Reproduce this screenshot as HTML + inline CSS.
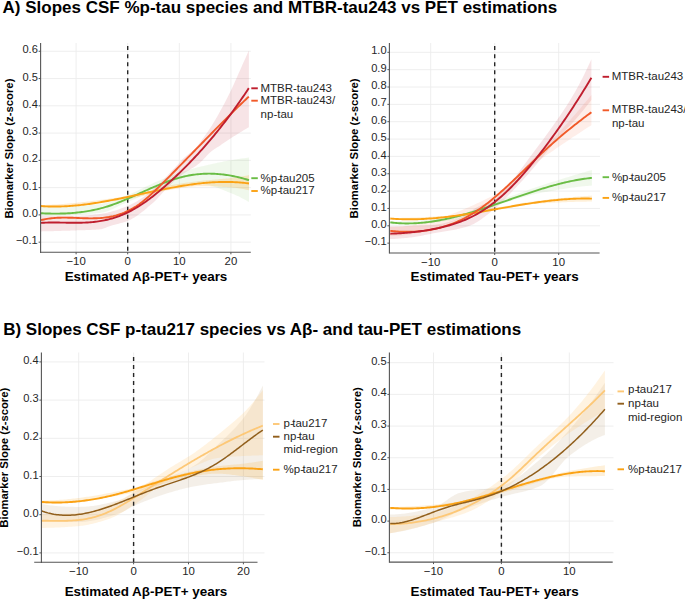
<!DOCTYPE html>
<html><head><meta charset="utf-8"><style>
html,body{margin:0;padding:0;background:#fff;}
svg{display:block;}
text{font-family:"Liberation Sans",sans-serif;}
</style></head><body>
<svg width="685" height="599" viewBox="0 0 685 599">
<rect width="685" height="599" fill="#fff"/>
<text x="2.6" y="13.0" font-size="17" font-weight="bold" fill="#000">A) Slopes CSF %p-tau species and MTBR-tau243 vs PET estimations</text>
<text x="3.2" y="335.3" font-size="17" font-weight="bold" fill="#000">B) Slopes CSF p-tau217 species vs Aβ- and tau-PET estimations</text>
<line x1="40.6" y1="51.28" x2="250.8" y2="51.28" stroke="#ececec" stroke-width="0.9"/>
<line x1="40.6" y1="78.55" x2="250.8" y2="78.55" stroke="#ececec" stroke-width="0.9"/>
<line x1="40.6" y1="105.82" x2="250.8" y2="105.82" stroke="#ececec" stroke-width="0.9"/>
<line x1="40.6" y1="133.09" x2="250.8" y2="133.09" stroke="#ececec" stroke-width="0.9"/>
<line x1="40.6" y1="160.36" x2="250.8" y2="160.36" stroke="#ececec" stroke-width="0.9"/>
<line x1="40.6" y1="187.63" x2="250.8" y2="187.63" stroke="#ececec" stroke-width="0.9"/>
<line x1="40.6" y1="214.90" x2="250.8" y2="214.90" stroke="#ececec" stroke-width="0.9"/>
<line x1="40.6" y1="242.17" x2="250.8" y2="242.17" stroke="#ececec" stroke-width="0.9"/>
<line x1="76.10" y1="43" x2="76.10" y2="252.3" stroke="#ececec" stroke-width="0.9"/>
<line x1="127.70" y1="43" x2="127.70" y2="252.3" stroke="#ececec" stroke-width="0.9"/>
<line x1="179.30" y1="43" x2="179.30" y2="252.3" stroke="#ececec" stroke-width="0.9"/>
<line x1="230.90" y1="43" x2="230.90" y2="252.3" stroke="#ececec" stroke-width="0.9"/>
<path d="M41.00,216.00 L42.51,216.00 L44.01,216.00 L45.52,216.00 L47.03,216.00 L48.53,216.00 L50.04,216.00 L51.55,216.00 L53.05,216.00 L54.56,216.00 L56.07,216.00 L57.57,216.00 L59.08,216.00 L60.58,216.00 L62.09,216.00 L63.60,216.00 L65.10,216.00 L66.61,216.00 L68.12,216.00 L69.62,216.00 L71.13,216.00 L72.64,216.00 L74.14,216.00 L75.65,216.00 L77.16,215.99 L78.66,215.97 L80.17,215.92 L81.68,215.85 L83.18,215.76 L84.69,215.66 L86.20,215.54 L87.70,215.41 L89.21,215.27 L90.72,215.11 L92.22,214.95 L93.73,214.78 L95.23,214.60 L96.74,214.41 L98.25,214.22 L99.75,214.03 L101.26,213.83 L102.77,213.59 L104.27,213.32 L105.78,213.02 L107.29,212.68 L108.79,212.32 L110.30,211.94 L111.81,211.52 L113.31,211.09 L114.82,210.63 L116.33,210.15 L117.83,209.65 L119.34,209.13 L120.85,208.60 L122.35,208.05 L123.86,207.49 L125.37,206.91 L126.87,206.33 L128.38,205.73 L129.88,205.07 L131.39,204.36 L132.90,203.59 L134.40,202.78 L135.91,201.91 L137.42,201.01 L138.92,200.07 L140.43,199.10 L141.94,198.10 L143.44,197.08 L144.95,196.03 L146.46,194.95 L147.96,193.79 L149.47,192.57 L150.98,191.29 L152.48,189.97 L153.99,188.61 L155.50,187.21 L157.00,185.80 L158.51,184.37 L160.02,182.94 L161.52,181.50 L163.03,180.03 L164.53,178.51 L166.04,176.96 L167.55,175.39 L169.05,173.80 L170.56,172.20 L172.07,170.59 L173.57,169.00 L175.08,167.42 L176.59,165.82 L178.09,164.18 L179.60,162.54 L181.11,160.92 L182.61,159.34 L184.12,157.83 L185.63,156.43 L187.13,155.17 L188.64,154.00 L190.15,152.86 L191.65,151.69 L193.16,150.43 L194.67,149.04 L196.17,147.41 L197.68,145.55 L199.18,143.55 L200.69,141.51 L202.20,139.50 L203.70,137.45 L205.21,135.36 L206.72,133.22 L208.22,131.01 L209.73,128.74 L211.24,126.40 L212.74,123.99 L214.25,121.53 L215.76,119.01 L217.26,116.43 L218.77,113.78 L220.28,111.07 L221.78,108.31 L223.29,105.50 L224.80,102.64 L226.30,99.74 L227.81,96.79 L229.32,93.77 L230.82,90.68 L232.33,87.49 L233.83,84.20 L235.34,80.83 L236.85,77.44 L238.35,74.05 L239.86,70.67 L241.37,67.27 L242.87,63.87 L244.38,60.49 L245.89,57.14 L247.39,53.81 L248.90,50.50 L248.90,127.20 L247.39,128.08 L245.89,128.97 L244.38,129.86 L242.87,130.77 L241.37,131.68 L239.86,132.60 L238.35,133.53 L236.85,134.47 L235.34,135.41 L233.83,136.36 L232.33,137.32 L230.82,138.28 L229.32,139.26 L227.81,140.27 L226.30,141.28 L224.80,142.31 L223.29,143.34 L221.78,144.36 L220.28,145.38 L218.77,146.38 L217.26,147.35 L215.76,148.25 L214.25,149.16 L212.74,150.19 L211.24,151.42 L209.73,152.80 L208.22,154.30 L206.72,155.87 L205.21,157.48 L203.70,159.08 L202.20,160.63 L200.69,162.08 L199.18,163.41 L197.68,164.58 L196.17,165.67 L194.67,166.69 L193.16,167.65 L191.65,168.58 L190.15,169.49 L188.64,170.40 L187.13,171.32 L185.63,172.27 L184.12,173.26 L182.61,174.32 L181.11,175.46 L179.60,176.65 L178.09,177.89 L176.59,179.18 L175.08,180.51 L173.57,181.87 L172.07,183.26 L170.56,184.68 L169.05,186.11 L167.55,187.55 L166.04,189.05 L164.53,190.64 L163.03,192.29 L161.52,193.97 L160.02,195.65 L158.51,197.31 L157.00,198.92 L155.50,200.45 L153.99,201.88 L152.48,203.20 L150.98,204.51 L149.47,205.81 L147.96,207.11 L146.46,208.39 L144.95,209.65 L143.44,210.88 L141.94,212.08 L140.43,213.25 L138.92,214.37 L137.42,215.45 L135.91,216.47 L134.40,217.44 L132.90,218.34 L131.39,219.17 L129.88,219.94 L128.38,220.62 L126.87,221.22 L125.37,221.76 L123.86,222.26 L122.35,222.71 L120.85,223.12 L119.34,223.52 L117.83,223.90 L116.33,224.27 L114.82,224.65 L113.31,225.04 L111.81,225.46 L110.30,225.91 L108.79,226.42 L107.29,227.02 L105.78,227.66 L104.27,228.27 L102.77,228.79 L101.26,229.17 L99.75,229.35 L98.25,229.47 L96.74,229.58 L95.23,229.68 L93.73,229.77 L92.22,229.85 L90.72,229.92 L89.21,229.98 L87.70,230.04 L86.20,230.09 L84.69,230.14 L83.18,230.18 L81.68,230.23 L80.17,230.27 L78.66,230.32 L77.16,230.37 L75.65,230.42 L74.14,230.48 L72.64,230.53 L71.13,230.58 L69.62,230.63 L68.12,230.68 L66.61,230.73 L65.10,230.78 L63.60,230.83 L62.09,230.87 L60.58,230.92 L59.08,230.97 L57.57,231.01 L56.07,231.05 L54.56,231.09 L53.05,231.13 L51.55,231.17 L50.04,231.21 L48.53,231.24 L47.03,231.28 L45.52,231.31 L44.01,231.34 L42.51,231.37 L41.00,231.40 Z" fill="#bf1e2e" fill-opacity="0.12" stroke="none"/>
<path d="M41.00,207.00 L42.51,207.00 L44.01,206.99 L45.52,206.98 L47.03,206.97 L48.54,206.95 L50.04,206.92 L51.55,206.90 L53.06,206.86 L54.57,206.83 L56.07,206.79 L57.58,206.75 L59.09,206.70 L60.59,206.65 L62.10,206.59 L63.61,206.53 L65.12,206.47 L66.62,206.40 L68.13,206.33 L69.64,206.26 L71.14,206.18 L72.65,206.09 L74.16,206.01 L75.67,205.92 L77.17,205.83 L78.68,205.73 L80.19,205.63 L81.70,205.53 L83.20,205.42 L84.71,205.31 L86.22,205.19 L87.72,205.08 L89.23,204.96 L90.74,204.83 L92.25,204.71 L93.75,204.58 L95.26,204.44 L96.77,204.30 L98.28,204.16 L99.78,204.02 L101.29,203.85 L102.80,203.62 L104.30,203.33 L105.81,202.99 L107.32,202.60 L108.83,202.17 L110.33,201.70 L111.84,201.19 L113.35,200.66 L114.86,200.10 L116.36,199.52 L117.87,198.92 L119.38,198.32 L120.88,197.71 L122.39,197.10 L123.90,196.49 L125.41,195.89 L126.91,195.30 L128.42,194.72 L129.93,194.13 L131.43,193.50 L132.94,192.85 L134.45,192.18 L135.96,191.49 L137.46,190.79 L138.97,190.07 L140.48,189.34 L141.99,188.60 L143.49,187.86 L145.00,187.11 L146.51,186.37 L148.01,185.63 L149.52,184.89 L151.03,184.17 L152.54,183.45 L154.04,182.75 L155.55,182.07 L157.06,181.40 L158.57,180.76 L160.07,180.14 L161.58,179.55 L163.09,178.97 L164.59,178.40 L166.10,177.82 L167.61,177.25 L169.12,176.68 L170.62,176.12 L172.13,175.56 L173.64,175.01 L175.14,174.47 L176.65,173.93 L178.16,173.40 L179.67,172.87 L181.17,172.36 L182.68,171.85 L184.19,171.35 L185.70,170.86 L187.20,170.39 L188.71,169.92 L190.22,169.46 L191.72,169.02 L193.23,168.58 L194.74,168.16 L196.25,167.76 L197.75,167.36 L199.26,166.98 L200.77,166.61 L202.28,166.25 L203.78,165.89 L205.29,165.53 L206.80,165.18 L208.30,164.83 L209.81,164.49 L211.32,164.15 L212.83,163.81 L214.33,163.48 L215.84,163.15 L217.35,162.83 L218.86,162.51 L220.36,162.20 L221.87,161.89 L223.38,161.59 L224.88,161.29 L226.39,161.01 L227.90,160.73 L229.41,160.45 L230.91,160.18 L232.42,159.92 L233.93,159.67 L235.43,159.43 L236.94,159.19 L238.45,158.96 L239.96,158.74 L241.46,158.53 L242.97,158.32 L244.48,158.13 L245.99,157.94 L247.49,157.77 L249.00,157.60 L249.00,202.00 L247.49,201.15 L245.99,200.31 L244.48,199.48 L242.97,198.67 L241.46,197.88 L239.96,197.11 L238.45,196.36 L236.94,195.64 L235.43,194.95 L233.93,194.30 L232.42,193.67 L230.91,193.09 L229.41,192.51 L227.90,191.91 L226.39,191.31 L224.88,190.70 L223.38,190.09 L221.87,189.49 L220.36,188.90 L218.86,188.31 L217.35,187.75 L215.84,187.21 L214.33,186.69 L212.83,186.21 L211.32,185.76 L209.81,185.36 L208.30,185.00 L206.80,184.68 L205.29,184.42 L203.78,184.22 L202.28,184.08 L200.77,184.01 L199.26,184.00 L197.75,184.02 L196.25,184.05 L194.74,184.10 L193.23,184.16 L191.72,184.24 L190.22,184.33 L188.71,184.44 L187.20,184.55 L185.70,184.68 L184.19,184.82 L182.68,184.97 L181.17,185.13 L179.67,185.30 L178.16,185.47 L176.65,185.65 L175.14,185.84 L173.64,186.04 L172.13,186.24 L170.62,186.45 L169.12,186.66 L167.61,186.87 L166.10,187.09 L164.59,187.36 L163.09,187.67 L161.58,188.03 L160.07,188.44 L158.57,188.89 L157.06,189.38 L155.55,189.90 L154.04,190.46 L152.54,191.04 L151.03,191.65 L149.52,192.28 L148.01,192.93 L146.51,193.60 L145.00,194.28 L143.49,194.97 L141.99,195.67 L140.48,196.37 L138.97,197.07 L137.46,197.77 L135.96,198.46 L134.45,199.14 L132.94,199.81 L131.43,200.47 L129.93,201.10 L128.42,201.72 L126.91,202.31 L125.41,202.95 L123.90,203.63 L122.39,204.33 L120.88,205.06 L119.38,205.80 L117.87,206.55 L116.36,207.29 L114.86,208.03 L113.35,208.75 L111.84,209.44 L110.33,210.09 L108.83,210.70 L107.32,211.26 L105.81,211.77 L104.30,212.20 L102.80,212.56 L101.29,212.84 L99.78,213.02 L98.28,213.17 L96.77,213.31 L95.26,213.45 L93.75,213.59 L92.25,213.72 L90.74,213.85 L89.23,213.98 L87.72,214.10 L86.22,214.22 L84.71,214.33 L83.20,214.45 L81.70,214.55 L80.19,214.66 L78.68,214.76 L77.17,214.85 L75.67,214.94 L74.16,215.03 L72.65,215.12 L71.14,215.20 L69.64,215.28 L68.13,215.35 L66.62,215.42 L65.12,215.49 L63.61,215.55 L62.10,215.61 L60.59,215.66 L59.09,215.71 L57.58,215.76 L56.07,215.80 L54.57,215.84 L53.06,215.87 L51.55,215.90 L50.04,215.93 L48.54,215.95 L47.03,215.97 L45.52,215.98 L44.01,215.99 L42.51,216.00 L41.00,216.00 Z" fill="#6abd45" fill-opacity="0.1" stroke="none"/>
<path d="M41.00,205.00 L42.51,204.98 L44.01,204.95 L45.52,204.91 L47.03,204.86 L48.54,204.81 L50.04,204.76 L51.55,204.69 L53.06,204.62 L54.57,204.55 L56.07,204.47 L57.58,204.38 L59.09,204.29 L60.59,204.19 L62.10,204.08 L63.61,203.97 L65.12,203.86 L66.62,203.74 L68.13,203.62 L69.64,203.49 L71.14,203.35 L72.65,203.21 L74.16,203.07 L75.67,202.92 L77.17,202.77 L78.68,202.62 L80.19,202.46 L81.70,202.29 L83.20,202.12 L84.71,201.95 L86.22,201.78 L87.72,201.60 L89.23,201.42 L90.74,201.23 L92.25,201.04 L93.75,200.85 L95.26,200.66 L96.77,200.46 L98.28,200.26 L99.78,200.06 L101.29,199.85 L102.80,199.65 L104.30,199.44 L105.81,199.23 L107.32,199.01 L108.83,198.80 L110.33,198.58 L111.84,198.36 L113.35,198.14 L114.86,197.92 L116.36,197.70 L117.87,197.48 L119.38,197.25 L120.88,197.03 L122.39,196.80 L123.90,196.57 L125.41,196.35 L126.91,196.12 L128.42,195.89 L129.93,195.64 L131.43,195.36 L132.94,195.07 L134.45,194.76 L135.96,194.42 L137.46,194.08 L138.97,193.72 L140.48,193.34 L141.99,192.95 L143.49,192.56 L145.00,192.15 L146.51,191.74 L148.01,191.32 L149.52,190.89 L151.03,190.47 L152.54,190.04 L154.04,189.61 L155.55,189.19 L157.06,188.76 L158.57,188.35 L160.07,187.93 L161.58,187.53 L163.09,187.13 L164.59,186.75 L166.10,186.38 L167.61,186.02 L169.12,185.67 L170.62,185.34 L172.13,185.03 L173.64,184.74 L175.14,184.47 L176.65,184.22 L178.16,183.97 L179.67,183.73 L181.17,183.49 L182.68,183.26 L184.19,183.04 L185.70,182.82 L187.20,182.61 L188.71,182.40 L190.22,182.20 L191.72,182.00 L193.23,181.81 L194.74,181.63 L196.25,181.44 L197.75,181.26 L199.26,181.09 L200.77,180.91 L202.28,180.75 L203.78,180.59 L205.29,180.44 L206.80,180.30 L208.30,180.16 L209.81,180.03 L211.32,179.90 L212.83,179.77 L214.33,179.64 L215.84,179.51 L217.35,179.39 L218.86,179.26 L220.36,179.12 L221.87,178.99 L223.38,178.85 L224.88,178.70 L226.39,178.55 L227.90,178.38 L229.41,178.21 L230.91,178.04 L232.42,177.84 L233.93,177.64 L235.43,177.42 L236.94,177.20 L238.45,176.96 L239.96,176.71 L241.46,176.46 L242.97,176.20 L244.48,175.93 L245.99,175.66 L247.49,175.38 L249.00,175.10 L249.00,190.30 L247.49,189.99 L245.99,189.67 L244.48,189.37 L242.97,189.07 L241.46,188.78 L239.96,188.51 L238.45,188.25 L236.94,188.02 L235.43,187.82 L233.93,187.64 L232.42,187.49 L230.91,187.38 L229.41,187.28 L227.90,187.19 L226.39,187.10 L224.88,187.01 L223.38,186.92 L221.87,186.84 L220.36,186.76 L218.86,186.69 L217.35,186.62 L215.84,186.55 L214.33,186.49 L212.83,186.44 L211.32,186.39 L209.81,186.34 L208.30,186.30 L206.80,186.27 L205.29,186.24 L203.78,186.22 L202.28,186.21 L200.77,186.20 L199.26,186.20 L197.75,186.24 L196.25,186.30 L194.74,186.40 L193.23,186.51 L191.72,186.66 L190.22,186.82 L188.71,187.00 L187.20,187.20 L185.70,187.40 L184.19,187.62 L182.68,187.85 L181.17,188.08 L179.67,188.31 L178.16,188.53 L176.65,188.76 L175.14,188.98 L173.64,189.20 L172.13,189.44 L170.62,189.70 L169.12,189.98 L167.61,190.27 L166.10,190.57 L164.59,190.89 L163.09,191.22 L161.58,191.56 L160.07,191.90 L158.57,192.26 L157.06,192.62 L155.55,192.98 L154.04,193.35 L152.54,193.72 L151.03,194.10 L149.52,194.47 L148.01,194.84 L146.51,195.21 L145.00,195.57 L143.49,195.92 L141.99,196.27 L140.48,196.62 L138.97,196.95 L137.46,197.27 L135.96,197.58 L134.45,197.88 L132.94,198.16 L131.43,198.42 L129.93,198.67 L128.42,198.90 L126.91,199.11 L125.41,199.32 L123.90,199.53 L122.39,199.73 L120.88,199.94 L119.38,200.15 L117.87,200.35 L116.36,200.56 L114.86,200.76 L113.35,200.96 L111.84,201.16 L110.33,201.36 L108.83,201.56 L107.32,201.75 L105.81,201.95 L104.30,202.14 L102.80,202.33 L101.29,202.52 L99.78,202.71 L98.28,202.89 L96.77,203.08 L95.26,203.26 L93.75,203.44 L92.25,203.61 L90.74,203.78 L89.23,203.95 L87.72,204.12 L86.22,204.29 L84.71,204.45 L83.20,204.61 L81.70,204.77 L80.19,204.92 L78.68,205.07 L77.17,205.21 L75.67,205.36 L74.16,205.50 L72.65,205.63 L71.14,205.77 L69.64,205.89 L68.13,206.02 L66.62,206.14 L65.12,206.26 L63.61,206.37 L62.10,206.48 L60.59,206.58 L59.09,206.68 L57.58,206.77 L56.07,206.87 L54.57,206.95 L53.06,207.03 L51.55,207.11 L50.04,207.18 L48.54,207.25 L47.03,207.31 L45.52,207.36 L44.01,207.41 L42.51,207.46 L41.00,207.50 Z" fill="#fba214" fill-opacity="0.2" stroke="none"/>
<line x1="127.70" y1="46.1" x2="127.70" y2="252.3" stroke="#262626" stroke-width="1.4" stroke-dasharray="4.0 4.03"/>
<path d="M41.00,213.24 L42.51,213.31 L44.01,213.38 L45.52,213.44 L47.03,213.49 L48.54,213.53 L50.04,213.57 L51.55,213.59 L53.06,213.61 L54.57,213.62 L56.07,213.63 L57.58,213.62 L59.09,213.60 L60.59,213.57 L62.10,213.54 L63.61,213.49 L65.12,213.43 L66.62,213.37 L68.13,213.29 L69.64,213.20 L71.14,213.09 L72.65,212.98 L74.16,212.85 L75.67,212.71 L77.17,212.56 L78.68,212.40 L80.19,212.22 L81.70,212.03 L83.20,211.83 L84.71,211.61 L86.22,211.37 L87.72,211.13 L89.23,210.87 L90.74,210.59 L92.25,210.30 L93.75,209.99 L95.26,209.66 L96.77,209.32 L98.28,208.97 L99.78,208.59 L101.29,208.20 L102.80,207.80 L104.30,207.37 L105.81,206.93 L107.32,206.47 L108.83,205.99 L110.33,205.49 L111.84,204.98 L113.35,204.44 L114.86,203.89 L116.36,203.33 L117.87,202.75 L119.38,202.16 L120.88,201.55 L122.39,200.94 L123.90,200.31 L125.41,199.67 L126.91,199.03 L128.42,198.38 L129.93,197.72 L131.43,197.05 L132.94,196.38 L134.45,195.70 L135.96,195.02 L137.46,194.34 L138.97,193.66 L140.48,192.97 L141.99,192.29 L143.49,191.61 L145.00,190.93 L146.51,190.25 L148.01,189.58 L149.52,188.91 L151.03,188.24 L152.54,187.59 L154.04,186.94 L155.55,186.29 L157.06,185.66 L158.57,185.04 L160.07,184.42 L161.58,183.81 L163.09,183.22 L164.59,182.64 L166.10,182.07 L167.61,181.51 L169.12,180.97 L170.62,180.45 L172.13,179.93 L173.64,179.44 L175.14,178.96 L176.65,178.50 L178.16,178.06 L179.67,177.64 L181.17,177.23 L182.68,176.85 L184.19,176.49 L185.70,176.15 L187.20,175.84 L188.71,175.54 L190.22,175.27 L191.72,175.02 L193.23,174.79 L194.74,174.58 L196.25,174.40 L197.75,174.23 L199.26,174.09 L200.77,173.97 L202.28,173.87 L203.78,173.79 L205.29,173.73 L206.80,173.69 L208.30,173.67 L209.81,173.67 L211.32,173.69 L212.83,173.73 L214.33,173.79 L215.84,173.87 L217.35,173.97 L218.86,174.08 L220.36,174.22 L221.87,174.37 L223.38,174.55 L224.88,174.74 L226.39,174.95 L227.90,175.18 L229.41,175.42 L230.91,175.69 L232.42,175.97 L233.93,176.27 L235.43,176.59 L236.94,176.92 L238.45,177.27 L239.96,177.64 L241.46,178.02 L242.97,178.42 L244.48,178.84 L245.99,179.27 L247.49,179.72 L249.00,180.19" fill="none" stroke="#6abd45" stroke-width="1.9" stroke-linecap="butt"/>
<path d="M41.00,206.04 L42.51,206.15 L44.01,206.24 L45.52,206.33 L47.03,206.39 L48.54,206.45 L50.04,206.49 L51.55,206.52 L53.06,206.54 L54.57,206.55 L56.07,206.55 L57.58,206.53 L59.09,206.50 L60.59,206.47 L62.10,206.42 L63.61,206.36 L65.12,206.29 L66.62,206.21 L68.13,206.12 L69.64,206.02 L71.14,205.92 L72.65,205.80 L74.16,205.67 L75.67,205.54 L77.17,205.39 L78.68,205.24 L80.19,205.08 L81.70,204.91 L83.20,204.73 L84.71,204.55 L86.22,204.35 L87.72,204.15 L89.23,203.95 L90.74,203.73 L92.25,203.51 L93.75,203.29 L95.26,203.05 L96.77,202.82 L98.28,202.57 L99.78,202.32 L101.29,202.06 L102.80,201.80 L104.30,201.54 L105.81,201.27 L107.32,200.99 L108.83,200.71 L110.33,200.43 L111.84,200.14 L113.35,199.85 L114.86,199.55 L116.36,199.25 L117.87,198.95 L119.38,198.64 L120.88,198.33 L122.39,198.02 L123.90,197.71 L125.41,197.39 L126.91,197.08 L128.42,196.76 L129.93,196.44 L131.43,196.12 L132.94,195.79 L134.45,195.47 L135.96,195.14 L137.46,194.82 L138.97,194.49 L140.48,194.16 L141.99,193.84 L143.49,193.51 L145.00,193.19 L146.51,192.86 L148.01,192.54 L149.52,192.22 L151.03,191.89 L152.54,191.57 L154.04,191.26 L155.55,190.94 L157.06,190.63 L158.57,190.31 L160.07,190.00 L161.58,189.70 L163.09,189.39 L164.59,189.09 L166.10,188.79 L167.61,188.50 L169.12,188.21 L170.62,187.92 L172.13,187.64 L173.64,187.36 L175.14,187.09 L176.65,186.82 L178.16,186.56 L179.67,186.30 L181.17,186.04 L182.68,185.80 L184.19,185.55 L185.70,185.32 L187.20,185.09 L188.71,184.86 L190.22,184.65 L191.72,184.44 L193.23,184.23 L194.74,184.04 L196.25,183.85 L197.75,183.67 L199.26,183.49 L200.77,183.33 L202.28,183.17 L203.78,183.02 L205.29,182.88 L206.80,182.75 L208.30,182.63 L209.81,182.51 L211.32,182.41 L212.83,182.31 L214.33,182.23 L215.84,182.16 L217.35,182.09 L218.86,182.04 L220.36,181.99 L221.87,181.96 L223.38,181.94 L224.88,181.93 L226.39,181.93 L227.90,181.94 L229.41,181.97 L230.91,182.01 L232.42,182.05 L233.93,182.12 L235.43,182.19 L236.94,182.28 L238.45,182.38 L239.96,182.49 L241.46,182.62 L242.97,182.76 L244.48,182.91 L245.99,183.08 L247.49,183.26 L249.00,183.46" fill="none" stroke="#fba214" stroke-width="1.9" stroke-linecap="butt"/>
<path d="M41.00,220.14 L42.51,219.77 L44.01,219.45 L45.52,219.15 L47.02,218.88 L48.53,218.65 L50.03,218.44 L51.54,218.27 L53.05,218.11 L54.55,217.99 L56.06,217.88 L57.56,217.80 L59.07,217.73 L60.58,217.68 L62.08,217.66 L63.59,217.64 L65.09,217.64 L66.60,217.65 L68.10,217.68 L69.61,217.71 L71.12,217.75 L72.62,217.80 L74.13,217.85 L75.63,217.91 L77.14,217.97 L78.64,218.02 L80.15,218.08 L81.66,218.14 L83.16,218.19 L84.67,218.24 L86.17,218.28 L87.68,218.31 L89.19,218.33 L90.69,218.34 L92.20,218.34 L93.70,218.32 L95.21,218.29 L96.71,218.24 L98.22,218.17 L99.73,218.08 L101.23,217.97 L102.74,217.84 L104.24,217.68 L105.75,217.50 L107.26,217.29 L108.76,217.05 L110.27,216.77 L111.77,216.47 L113.28,216.14 L114.78,215.77 L116.29,215.36 L117.80,214.91 L119.30,214.43 L120.81,213.91 L122.31,213.36 L123.82,212.76 L125.32,212.12 L126.83,211.44 L128.34,210.72 L129.84,209.95 L131.35,209.14 L132.85,208.29 L134.36,207.39 L135.87,206.45 L137.37,205.45 L138.88,204.42 L140.38,203.33 L141.89,202.19 L143.39,201.01 L144.90,199.78 L146.41,198.51 L147.91,197.21 L149.42,195.87 L150.92,194.50 L152.43,193.11 L153.93,191.69 L155.44,190.25 L156.95,188.79 L158.45,187.32 L159.96,185.83 L161.46,184.34 L162.97,182.85 L164.48,181.35 L165.98,179.84 L167.49,178.34 L168.99,176.82 L170.50,175.31 L172.00,173.79 L173.51,172.27 L175.02,170.74 L176.52,169.21 L178.03,167.68 L179.53,166.15 L181.04,164.61 L182.54,163.08 L184.05,161.54 L185.56,160.00 L187.06,158.45 L188.57,156.91 L190.07,155.37 L191.58,153.82 L193.09,152.28 L194.59,150.73 L196.10,149.18 L197.60,147.64 L199.11,146.09 L200.61,144.55 L202.12,143.00 L203.63,141.46 L205.13,139.92 L206.64,138.38 L208.14,136.84 L209.65,135.30 L211.16,133.76 L212.66,132.23 L214.17,130.70 L215.67,129.17 L217.18,127.64 L218.68,126.12 L220.19,124.60 L221.70,123.08 L223.20,121.57 L224.71,120.06 L226.21,118.56 L227.72,117.05 L229.22,115.56 L230.73,114.07 L232.24,112.58 L233.74,111.10 L235.25,109.62 L236.75,108.15 L238.26,106.69 L239.77,105.23 L241.27,103.77 L242.78,102.33 L244.28,100.89 L245.79,99.45 L247.29,98.03 L248.80,96.61" fill="none" stroke="#f15a29" stroke-width="1.9" stroke-linecap="butt"/>
<path d="M41.00,222.87 L42.51,222.78 L44.01,222.71 L45.52,222.65 L47.02,222.61 L48.53,222.57 L50.03,222.55 L51.54,222.53 L53.05,222.53 L54.55,222.53 L56.06,222.54 L57.56,222.55 L59.07,222.57 L60.58,222.59 L62.08,222.61 L63.59,222.64 L65.09,222.66 L66.60,222.69 L68.10,222.71 L69.61,222.73 L71.12,222.75 L72.62,222.76 L74.13,222.77 L75.63,222.78 L77.14,222.77 L78.64,222.76 L80.15,222.74 L81.66,222.70 L83.16,222.66 L84.67,222.61 L86.17,222.54 L87.68,222.46 L89.19,222.36 L90.69,222.25 L92.20,222.12 L93.70,221.97 L95.21,221.80 L96.71,221.62 L98.22,221.41 L99.73,221.18 L101.23,220.93 L102.74,220.66 L104.24,220.37 L105.75,220.05 L107.26,219.71 L108.76,219.34 L110.27,218.95 L111.77,218.54 L113.28,218.09 L114.78,217.63 L116.29,217.13 L117.80,216.61 L119.30,216.06 L120.81,215.48 L122.31,214.87 L123.82,214.24 L125.32,213.57 L126.83,212.87 L128.34,212.15 L129.84,211.39 L131.35,210.60 L132.85,209.78 L134.36,208.93 L135.87,208.05 L137.37,207.15 L138.88,206.21 L140.38,205.26 L141.89,204.27 L143.39,203.26 L144.90,202.22 L146.41,201.16 L147.91,200.08 L149.42,198.97 L150.92,197.84 L152.43,196.69 L153.93,195.51 L155.44,194.32 L156.95,193.10 L158.45,191.87 L159.96,190.61 L161.46,189.34 L162.97,188.05 L164.48,186.74 L165.98,185.41 L167.49,184.07 L168.99,182.71 L170.50,181.34 L172.00,179.95 L173.51,178.55 L175.02,177.14 L176.52,175.71 L178.03,174.27 L179.53,172.82 L181.04,171.35 L182.54,169.87 L184.05,168.38 L185.56,166.87 L187.06,165.35 L188.57,163.81 L190.07,162.26 L191.58,160.69 L193.09,159.11 L194.59,157.52 L196.10,155.90 L197.60,154.28 L199.11,152.63 L200.61,150.97 L202.12,149.30 L203.63,147.61 L205.13,145.90 L206.64,144.17 L208.14,142.43 L209.65,140.67 L211.16,138.89 L212.66,137.09 L214.17,135.28 L215.67,133.45 L217.18,131.60 L218.68,129.73 L220.19,127.84 L221.70,125.93 L223.20,124.01 L224.71,122.06 L226.21,120.10 L227.72,118.11 L229.22,116.11 L230.73,114.08 L232.24,112.04 L233.74,109.97 L235.25,107.88 L236.75,105.77 L238.26,103.64 L239.77,101.49 L241.27,99.32 L242.78,97.12 L244.28,94.91 L245.79,92.67 L247.29,90.40 L248.80,88.12" fill="none" stroke="#bf1e2e" stroke-width="1.9" stroke-linecap="butt"/>
<line x1="40.6" y1="43" x2="40.6" y2="252.9" stroke="#555555" stroke-width="1.1"/>
<line x1="40.6" y1="252.3" x2="250.8" y2="252.3" stroke="#555555" stroke-width="1.1"/>
<line x1="38.6" y1="51.28" x2="40.6" y2="51.28" stroke="#555555" stroke-width="1"/>
<text x="37.800000000000004" y="53.38" text-anchor="end" font-size="11.1" fill="#262626">0.6</text>
<line x1="38.6" y1="78.55" x2="40.6" y2="78.55" stroke="#555555" stroke-width="1"/>
<text x="37.800000000000004" y="80.65" text-anchor="end" font-size="11.1" fill="#262626">0.5</text>
<line x1="38.6" y1="105.82" x2="40.6" y2="105.82" stroke="#555555" stroke-width="1"/>
<text x="37.800000000000004" y="107.92" text-anchor="end" font-size="11.1" fill="#262626">0.4</text>
<line x1="38.6" y1="133.09" x2="40.6" y2="133.09" stroke="#555555" stroke-width="1"/>
<text x="37.800000000000004" y="135.19" text-anchor="end" font-size="11.1" fill="#262626">0.3</text>
<line x1="38.6" y1="160.36" x2="40.6" y2="160.36" stroke="#555555" stroke-width="1"/>
<text x="37.800000000000004" y="162.46" text-anchor="end" font-size="11.1" fill="#262626">0.2</text>
<line x1="38.6" y1="187.63" x2="40.6" y2="187.63" stroke="#555555" stroke-width="1"/>
<text x="37.800000000000004" y="189.73" text-anchor="end" font-size="11.1" fill="#262626">0.1</text>
<line x1="38.6" y1="214.90" x2="40.6" y2="214.90" stroke="#555555" stroke-width="1"/>
<text x="37.800000000000004" y="217.00" text-anchor="end" font-size="11.1" fill="#262626">0.0</text>
<line x1="38.6" y1="242.17" x2="40.6" y2="242.17" stroke="#555555" stroke-width="1"/>
<text x="37.800000000000004" y="244.27" text-anchor="end" font-size="11.1" fill="#262626">−0.1</text>
<line x1="76.10" y1="252.3" x2="76.10" y2="254.3" stroke="#555555" stroke-width="1"/>
<text x="76.10" y="264.90" text-anchor="middle" font-size="11.4" fill="#262626">−10</text>
<line x1="127.70" y1="252.3" x2="127.70" y2="254.3" stroke="#555555" stroke-width="1"/>
<text x="127.70" y="264.90" text-anchor="middle" font-size="11.4" fill="#262626">0</text>
<line x1="179.30" y1="252.3" x2="179.30" y2="254.3" stroke="#555555" stroke-width="1"/>
<text x="179.30" y="264.90" text-anchor="middle" font-size="11.4" fill="#262626">10</text>
<line x1="230.90" y1="252.3" x2="230.90" y2="254.3" stroke="#555555" stroke-width="1"/>
<text x="230.90" y="264.90" text-anchor="middle" font-size="11.4" fill="#262626">20</text>
<text x="146" y="281.3" text-anchor="middle" font-size="13.45" font-weight="bold" fill="#000">Estimated Aβ-PET+ years</text>
<text transform="translate(12.6,148.6) rotate(-90)" x="0" y="0" text-anchor="middle" font-size="11.3" font-weight="bold" fill="#000">Biomarker Slope (z-score)</text>
<line x1="251.3" y1="88.3" x2="257.8" y2="88.3" stroke="#bf1e2e" stroke-width="1.9"/>
<text x="260.40000000000003" y="91.6" font-size="11.5" fill="#262626">MTBR-tau243</text>
<line x1="251.3" y1="100.7" x2="257.8" y2="100.7" stroke="#f15a29" stroke-width="1.9"/>
<text x="260.40000000000003" y="104.0" font-size="11.5" fill="#262626">MTBR-tau243/</text>
<text x="260.6" y="117.6" font-size="11.5" fill="#262626">np-tau</text>
<line x1="251.3" y1="178.2" x2="257.8" y2="178.2" stroke="#6abd45" stroke-width="1.9"/>
<text x="260.6" y="181.8" font-size="11.5" fill="#262626">%p-<tspan dx="-1.6">tau205</tspan></text>
<line x1="251.3" y1="191" x2="257.8" y2="191" stroke="#fba214" stroke-width="1.9"/>
<text x="260.6" y="194.3" font-size="11.5" fill="#262626">%p-<tspan dx="-1.6">tau217</tspan></text>
<line x1="389.4" y1="52.30" x2="600" y2="52.30" stroke="#ececec" stroke-width="0.9"/>
<line x1="389.4" y1="69.65" x2="600" y2="69.65" stroke="#ececec" stroke-width="0.9"/>
<line x1="389.4" y1="87.00" x2="600" y2="87.00" stroke="#ececec" stroke-width="0.9"/>
<line x1="389.4" y1="104.35" x2="600" y2="104.35" stroke="#ececec" stroke-width="0.9"/>
<line x1="389.4" y1="121.70" x2="600" y2="121.70" stroke="#ececec" stroke-width="0.9"/>
<line x1="389.4" y1="139.05" x2="600" y2="139.05" stroke="#ececec" stroke-width="0.9"/>
<line x1="389.4" y1="156.40" x2="600" y2="156.40" stroke="#ececec" stroke-width="0.9"/>
<line x1="389.4" y1="173.75" x2="600" y2="173.75" stroke="#ececec" stroke-width="0.9"/>
<line x1="389.4" y1="191.10" x2="600" y2="191.10" stroke="#ececec" stroke-width="0.9"/>
<line x1="389.4" y1="208.45" x2="600" y2="208.45" stroke="#ececec" stroke-width="0.9"/>
<line x1="389.4" y1="225.80" x2="600" y2="225.80" stroke="#ececec" stroke-width="0.9"/>
<line x1="389.4" y1="243.15" x2="600" y2="243.15" stroke="#ececec" stroke-width="0.9"/>
<line x1="430.70" y1="43" x2="430.70" y2="253.0" stroke="#ececec" stroke-width="0.9"/>
<line x1="494.70" y1="43" x2="494.70" y2="253.0" stroke="#ececec" stroke-width="0.9"/>
<line x1="558.70" y1="43" x2="558.70" y2="253.0" stroke="#ececec" stroke-width="0.9"/>
<path d="M390.00,226.30 L391.50,226.30 L393.01,226.29 L394.51,226.28 L396.01,226.27 L397.51,226.25 L399.02,226.23 L400.52,226.21 L402.02,226.18 L403.53,226.15 L405.03,226.12 L406.53,226.08 L408.04,226.04 L409.54,226.00 L411.04,225.96 L412.54,225.91 L414.05,225.85 L415.55,225.80 L417.05,225.74 L418.56,225.68 L420.06,225.62 L421.56,225.55 L423.07,225.48 L424.57,225.41 L426.07,225.34 L427.57,225.26 L429.08,225.18 L430.58,225.10 L432.08,225.00 L433.59,224.87 L435.09,224.70 L436.59,224.50 L438.10,224.26 L439.60,224.00 L441.10,223.71 L442.60,223.40 L444.11,223.06 L445.61,222.69 L447.11,222.31 L448.62,221.90 L450.12,221.48 L451.62,221.04 L453.13,220.58 L454.63,220.11 L456.13,219.62 L457.63,219.12 L459.14,218.58 L460.64,217.90 L462.14,217.11 L463.65,216.22 L465.15,215.26 L466.65,214.25 L468.16,213.19 L469.66,212.12 L471.16,211.05 L472.66,210.00 L474.17,208.99 L475.67,208.04 L477.17,207.18 L478.68,206.40 L480.18,205.69 L481.68,205.02 L483.19,204.39 L484.69,203.78 L486.19,203.17 L487.69,202.54 L489.20,201.87 L490.70,201.15 L492.20,200.37 L493.71,199.50 L495.21,198.52 L496.71,197.39 L498.21,196.12 L499.72,194.72 L501.22,193.20 L502.72,191.60 L504.23,189.92 L505.73,188.18 L507.23,186.41 L508.74,184.61 L510.24,182.80 L511.74,181.01 L513.24,179.24 L514.75,177.42 L516.25,175.53 L517.75,173.60 L519.26,171.62 L520.76,169.61 L522.26,167.57 L523.77,165.52 L525.27,163.45 L526.77,161.39 L528.27,159.34 L529.78,157.30 L531.28,155.28 L532.78,153.27 L534.29,151.25 L535.79,149.25 L537.29,147.24 L538.80,145.23 L540.30,143.21 L541.80,141.19 L543.30,139.16 L544.81,137.13 L546.31,135.08 L547.81,133.02 L549.32,130.94 L550.82,128.85 L552.32,126.75 L553.83,124.62 L555.33,122.47 L556.83,120.29 L558.33,118.10 L559.84,115.88 L561.34,113.66 L562.84,111.43 L564.35,109.18 L565.85,106.90 L567.35,104.58 L568.86,102.22 L570.36,99.82 L571.86,97.36 L573.36,94.83 L574.87,92.23 L576.37,89.56 L577.87,86.82 L579.38,84.00 L580.88,81.12 L582.38,78.17 L583.89,75.16 L585.39,72.08 L586.89,68.95 L588.39,65.75 L589.90,62.50 L591.40,59.20 L591.40,100.00 L589.90,101.93 L588.39,103.83 L586.89,105.72 L585.39,107.59 L583.89,109.45 L582.38,111.28 L580.88,113.09 L579.38,114.89 L577.87,116.66 L576.37,118.42 L574.87,120.15 L573.36,121.85 L571.86,123.51 L570.36,125.14 L568.86,126.75 L567.35,128.34 L565.85,129.93 L564.35,131.52 L562.84,133.12 L561.34,134.74 L559.84,136.39 L558.33,138.07 L556.83,139.79 L555.33,141.54 L553.83,143.31 L552.32,145.10 L550.82,146.90 L549.32,148.72 L547.81,150.55 L546.31,152.39 L544.81,154.24 L543.30,156.08 L541.80,157.93 L540.30,159.77 L538.80,161.60 L537.29,163.42 L535.79,165.23 L534.29,167.02 L532.78,168.79 L531.28,170.53 L529.78,172.25 L528.27,173.96 L526.77,175.65 L525.27,177.33 L523.77,179.00 L522.26,180.66 L520.76,182.30 L519.26,183.93 L517.75,185.55 L516.25,187.16 L514.75,188.75 L513.24,190.33 L511.74,191.90 L510.24,193.48 L508.74,195.08 L507.23,196.68 L505.73,198.27 L504.23,199.85 L502.72,201.40 L501.22,202.91 L499.72,204.38 L498.21,205.79 L496.71,207.15 L495.21,208.42 L493.71,209.63 L492.20,210.84 L490.70,212.04 L489.20,213.24 L487.69,214.42 L486.19,215.59 L484.69,216.74 L483.19,217.85 L481.68,218.93 L480.18,219.98 L478.68,220.97 L477.17,221.92 L475.67,222.81 L474.17,223.64 L472.66,224.41 L471.16,225.10 L469.66,225.72 L468.16,226.25 L466.65,226.72 L465.15,227.16 L463.65,227.59 L462.14,227.98 L460.64,228.36 L459.14,228.72 L457.63,229.06 L456.13,229.39 L454.63,229.70 L453.13,229.99 L451.62,230.28 L450.12,230.55 L448.62,230.82 L447.11,231.08 L445.61,231.33 L444.11,231.58 L442.60,231.83 L441.10,232.08 L439.60,232.33 L438.10,232.57 L436.59,232.83 L435.09,233.09 L433.59,233.35 L432.08,233.62 L430.58,233.90 L429.08,234.20 L427.57,234.50 L426.07,234.81 L424.57,235.12 L423.07,235.43 L421.56,235.73 L420.06,236.03 L418.56,236.31 L417.05,236.58 L415.55,236.83 L414.05,237.06 L412.54,237.26 L411.04,237.44 L409.54,237.61 L408.04,237.77 L406.53,237.93 L405.03,238.08 L403.53,238.23 L402.02,238.36 L400.52,238.50 L399.02,238.62 L397.51,238.73 L396.01,238.83 L394.51,238.92 L393.01,238.99 L391.50,239.05 L390.00,239.10 Z" fill="#bf1e2e" fill-opacity="0.12" stroke="none"/>
<path d="M390.00,227.00 L391.50,226.99 L393.01,226.96 L394.51,226.92 L396.01,226.86 L397.51,226.78 L399.02,226.68 L400.52,226.57 L402.02,226.44 L403.53,226.29 L405.03,226.13 L406.53,225.95 L408.04,225.75 L409.54,225.54 L411.04,225.32 L412.54,225.08 L414.05,224.82 L415.55,224.55 L417.05,224.26 L418.56,223.96 L420.06,223.65 L421.56,223.32 L423.07,222.98 L424.57,222.63 L426.07,222.26 L427.57,221.88 L429.08,221.48 L430.58,221.07 L432.08,220.66 L433.59,220.22 L435.09,219.78 L436.59,219.33 L438.10,218.86 L439.60,218.38 L441.10,217.89 L442.60,217.39 L444.11,216.88 L445.61,216.36 L447.11,215.83 L448.62,215.28 L450.12,214.73 L451.62,214.17 L453.13,213.60 L454.63,213.02 L456.13,212.43 L457.63,211.83 L459.14,211.23 L460.64,210.61 L462.14,209.99 L463.65,209.36 L465.15,208.72 L466.65,208.07 L468.16,207.42 L469.66,206.76 L471.16,206.09 L472.66,205.42 L474.17,204.74 L475.67,204.05 L477.17,203.36 L478.68,202.66 L480.18,201.95 L481.68,201.24 L483.19,200.53 L484.69,199.81 L486.19,199.08 L487.69,198.35 L489.20,197.62 L490.70,196.88 L492.20,196.14 L493.71,195.40 L495.21,194.64 L496.71,193.80 L498.21,192.88 L499.72,191.88 L501.22,190.81 L502.72,189.67 L504.23,188.46 L505.73,187.19 L507.23,185.86 L508.74,184.48 L510.24,183.06 L511.74,181.59 L513.24,180.09 L514.75,178.55 L516.25,176.98 L517.75,175.39 L519.26,173.79 L520.76,172.17 L522.26,170.53 L523.77,168.90 L525.27,167.26 L526.77,165.63 L528.27,164.01 L529.78,162.40 L531.28,160.82 L532.78,159.25 L534.29,157.71 L535.79,156.21 L537.29,154.72 L538.80,153.23 L540.30,151.74 L541.80,150.24 L543.30,148.72 L544.81,147.21 L546.31,145.68 L547.81,144.14 L549.32,142.59 L550.82,141.04 L552.32,139.47 L553.83,137.89 L555.33,136.29 L556.83,134.69 L558.33,133.07 L559.84,131.44 L561.34,129.80 L562.84,128.15 L564.35,126.50 L565.85,124.83 L567.35,123.16 L568.86,121.47 L570.36,119.78 L571.86,118.07 L573.36,116.36 L574.87,114.63 L576.37,112.90 L577.87,111.16 L579.38,109.40 L580.88,107.64 L582.38,105.86 L583.89,104.08 L585.39,102.28 L586.89,100.48 L588.39,98.66 L589.90,96.84 L591.40,95.00 L591.40,125.20 L589.90,126.15 L588.39,127.10 L586.89,128.06 L585.39,129.02 L583.89,129.98 L582.38,130.96 L580.88,131.93 L579.38,132.91 L577.87,133.90 L576.37,134.88 L574.87,135.88 L573.36,136.87 L571.86,137.87 L570.36,138.88 L568.86,139.89 L567.35,140.90 L565.85,141.91 L564.35,142.93 L562.84,143.96 L561.34,144.98 L559.84,146.01 L558.33,147.05 L556.83,148.08 L555.33,149.10 L553.83,150.13 L552.32,151.15 L550.82,152.18 L549.32,153.21 L547.81,154.26 L546.31,155.31 L544.81,156.37 L543.30,157.45 L541.80,158.55 L540.30,159.67 L538.80,160.81 L537.29,161.98 L535.79,163.17 L534.29,164.42 L532.78,165.74 L531.28,167.12 L529.78,168.56 L528.27,170.04 L526.77,171.57 L525.27,173.13 L523.77,174.72 L522.26,176.33 L520.76,177.96 L519.26,179.60 L517.75,181.24 L516.25,182.87 L514.75,184.50 L513.24,186.11 L511.74,187.69 L510.24,189.24 L508.74,190.76 L507.23,192.23 L505.73,193.65 L504.23,195.01 L502.72,196.31 L501.22,197.54 L499.72,198.69 L498.21,199.76 L496.71,200.74 L495.21,201.62 L493.71,202.41 L492.20,203.19 L490.70,203.97 L489.20,204.74 L487.69,205.51 L486.19,206.27 L484.69,207.03 L483.19,207.79 L481.68,208.54 L480.18,209.28 L478.68,210.02 L477.17,210.76 L475.67,211.49 L474.17,212.22 L472.66,212.93 L471.16,213.65 L469.66,214.35 L468.16,215.05 L466.65,215.74 L465.15,216.43 L463.65,217.10 L462.14,217.77 L460.64,218.44 L459.14,219.09 L457.63,219.73 L456.13,220.37 L454.63,221.00 L453.13,221.61 L451.62,222.22 L450.12,222.82 L448.62,223.41 L447.11,223.99 L445.61,224.56 L444.11,225.11 L442.60,225.66 L441.10,226.20 L439.60,226.72 L438.10,227.23 L436.59,227.73 L435.09,228.22 L433.59,228.70 L432.08,229.16 L430.58,229.61 L429.08,230.05 L427.57,230.47 L426.07,230.88 L424.57,231.28 L423.07,231.66 L421.56,232.03 L420.06,232.38 L418.56,232.72 L417.05,233.04 L415.55,233.35 L414.05,233.64 L412.54,233.92 L411.04,234.18 L409.54,234.42 L408.04,234.65 L406.53,234.86 L405.03,235.05 L403.53,235.23 L402.02,235.39 L400.52,235.53 L399.02,235.65 L397.51,235.76 L396.01,235.84 L394.51,235.91 L393.01,235.96 L391.50,235.99 L390.00,236.00 Z" fill="#f15a29" fill-opacity="0.1" stroke="none"/>
<path d="M390.00,221.50 L391.51,221.50 L393.01,221.49 L394.52,221.47 L396.03,221.45 L397.53,221.42 L399.04,221.39 L400.55,221.35 L402.05,221.30 L403.56,221.25 L405.07,221.20 L406.57,221.14 L408.08,221.07 L409.59,221.00 L411.09,220.92 L412.60,220.84 L414.11,220.75 L415.61,220.66 L417.12,220.56 L418.63,220.46 L420.13,220.36 L421.64,220.25 L423.15,220.14 L424.65,220.02 L426.16,219.90 L427.67,219.77 L429.17,219.64 L430.68,219.51 L432.19,219.37 L433.69,219.23 L435.20,219.08 L436.71,218.93 L438.21,218.78 L439.72,218.63 L441.23,218.47 L442.74,218.31 L444.24,218.15 L445.75,217.98 L447.26,217.81 L448.76,217.64 L450.27,217.47 L451.78,217.26 L453.28,217.01 L454.79,216.72 L456.30,216.39 L457.80,216.02 L459.31,215.61 L460.82,215.18 L462.32,214.71 L463.83,214.22 L465.34,213.70 L466.84,213.15 L468.35,212.59 L469.86,212.01 L471.36,211.41 L472.87,210.80 L474.38,210.18 L475.88,209.55 L477.39,208.91 L478.90,208.27 L480.40,207.63 L481.91,206.99 L483.42,206.35 L484.92,205.72 L486.43,205.10 L487.94,204.49 L489.44,203.89 L490.95,203.30 L492.46,202.74 L493.96,202.19 L495.47,201.66 L496.98,201.13 L498.48,200.60 L499.99,200.06 L501.50,199.53 L503.00,198.99 L504.51,198.45 L506.02,197.91 L507.52,197.37 L509.03,196.83 L510.54,196.29 L512.04,195.75 L513.55,195.21 L515.06,194.67 L516.56,194.13 L518.07,193.59 L519.58,193.05 L521.08,192.51 L522.59,191.98 L524.10,191.45 L525.60,190.92 L527.11,190.39 L528.62,189.86 L530.12,189.34 L531.63,188.82 L533.14,188.30 L534.64,187.79 L536.15,187.28 L537.66,186.78 L539.16,186.28 L540.67,185.78 L542.18,185.28 L543.69,184.79 L545.19,184.30 L546.70,183.81 L548.21,183.32 L549.71,182.84 L551.22,182.35 L552.73,181.87 L554.23,181.39 L555.74,180.91 L557.25,180.44 L558.75,179.96 L560.26,179.49 L561.77,179.02 L563.27,178.55 L564.78,178.08 L566.29,177.61 L567.79,177.15 L569.30,176.69 L570.81,176.23 L572.31,175.77 L573.82,175.31 L575.33,174.86 L576.83,174.41 L578.34,173.96 L579.85,173.51 L581.35,173.06 L582.86,172.62 L584.37,172.18 L585.87,171.74 L587.38,171.30 L588.89,170.86 L590.39,170.43 L591.90,170.00 L591.90,185.60 L590.39,185.70 L588.89,185.82 L587.38,185.94 L585.87,186.07 L584.37,186.21 L582.86,186.35 L581.35,186.51 L579.85,186.67 L578.34,186.84 L576.83,187.02 L575.33,187.20 L573.82,187.39 L572.31,187.59 L570.81,187.79 L569.30,188.00 L567.79,188.22 L566.29,188.44 L564.78,188.66 L563.27,188.90 L561.77,189.13 L560.26,189.37 L558.75,189.62 L557.25,189.87 L555.74,190.13 L554.23,190.39 L552.73,190.65 L551.22,190.92 L549.71,191.19 L548.21,191.46 L546.70,191.74 L545.19,192.02 L543.69,192.30 L542.18,192.58 L540.67,192.87 L539.16,193.16 L537.66,193.47 L536.15,193.79 L534.64,194.13 L533.14,194.48 L531.63,194.84 L530.12,195.22 L528.62,195.61 L527.11,196.01 L525.60,196.42 L524.10,196.84 L522.59,197.27 L521.08,197.71 L519.58,198.16 L518.07,198.61 L516.56,199.07 L515.06,199.53 L513.55,200.00 L512.04,200.47 L510.54,200.95 L509.03,201.42 L507.52,201.90 L506.02,202.38 L504.51,202.86 L503.00,203.34 L501.50,203.82 L499.99,204.30 L498.48,204.77 L496.98,205.24 L495.47,205.70 L493.96,206.17 L492.46,206.65 L490.95,207.15 L489.44,207.67 L487.94,208.21 L486.43,208.77 L484.92,209.34 L483.42,209.92 L481.91,210.50 L480.40,211.10 L478.90,211.70 L477.39,212.29 L475.88,212.89 L474.38,213.48 L472.87,214.07 L471.36,214.65 L469.86,215.21 L468.35,215.77 L466.84,216.30 L465.34,216.82 L463.83,217.32 L462.32,217.79 L460.82,218.24 L459.31,218.66 L457.80,219.06 L456.30,219.41 L454.79,219.74 L453.28,220.02 L451.78,220.27 L450.27,220.47 L448.76,220.64 L447.26,220.81 L445.75,220.98 L444.24,221.14 L442.74,221.30 L441.23,221.46 L439.72,221.62 L438.21,221.77 L436.71,221.92 L435.20,222.07 L433.69,222.22 L432.19,222.36 L430.68,222.49 L429.17,222.63 L427.67,222.76 L426.16,222.88 L424.65,223.01 L423.15,223.12 L421.64,223.24 L420.13,223.35 L418.63,223.45 L417.12,223.56 L415.61,223.65 L414.11,223.74 L412.60,223.83 L411.09,223.91 L409.59,223.99 L408.08,224.06 L406.57,224.13 L405.07,224.19 L403.56,224.25 L402.05,224.30 L400.55,224.35 L399.04,224.39 L397.53,224.42 L396.03,224.45 L394.52,224.47 L393.01,224.49 L391.51,224.50 L390.00,224.50 Z" fill="#6abd45" fill-opacity="0.1" stroke="none"/>
<path d="M390.00,218.00 L391.51,218.00 L393.01,217.99 L394.52,217.98 L396.03,217.97 L397.53,217.95 L399.04,217.93 L400.55,217.90 L402.05,217.87 L403.56,217.84 L405.07,217.80 L406.57,217.76 L408.08,217.72 L409.59,217.67 L411.09,217.62 L412.60,217.57 L414.11,217.51 L415.61,217.45 L417.12,217.39 L418.63,217.33 L420.13,217.26 L421.64,217.19 L423.15,217.12 L424.65,217.04 L426.16,216.97 L427.67,216.89 L429.17,216.81 L430.68,216.72 L432.19,216.64 L433.69,216.55 L435.20,216.46 L436.71,216.37 L438.21,216.28 L439.72,216.18 L441.23,216.09 L442.74,215.99 L444.24,215.89 L445.75,215.79 L447.26,215.69 L448.76,215.58 L450.27,215.48 L451.78,215.36 L453.28,215.23 L454.79,215.07 L456.30,214.90 L457.80,214.71 L459.31,214.51 L460.82,214.29 L462.32,214.06 L463.83,213.82 L465.34,213.57 L466.84,213.30 L468.35,213.03 L469.86,212.75 L471.36,212.47 L472.87,212.17 L474.38,211.88 L475.88,211.58 L477.39,211.28 L478.90,210.97 L480.40,210.67 L481.91,210.36 L483.42,210.06 L484.92,209.76 L486.43,209.47 L487.94,209.18 L489.44,208.90 L490.95,208.62 L492.46,208.35 L493.96,208.09 L495.47,207.84 L496.98,207.58 L498.48,207.32 L499.99,207.06 L501.50,206.80 L503.00,206.53 L504.51,206.26 L506.02,205.99 L507.52,205.72 L509.03,205.45 L510.54,205.18 L512.04,204.91 L513.55,204.64 L515.06,204.38 L516.56,204.11 L518.07,203.85 L519.58,203.58 L521.08,203.33 L522.59,203.07 L524.10,202.82 L525.60,202.57 L527.11,202.33 L528.62,202.09 L530.12,201.86 L531.63,201.63 L533.14,201.41 L534.64,201.20 L536.15,200.99 L537.66,200.79 L539.16,200.60 L540.67,200.42 L542.18,200.24 L543.69,200.06 L545.19,199.88 L546.70,199.71 L548.21,199.53 L549.71,199.36 L551.22,199.19 L552.73,199.02 L554.23,198.85 L555.74,198.69 L557.25,198.53 L558.75,198.37 L560.26,198.21 L561.77,198.05 L563.27,197.90 L564.78,197.75 L566.29,197.60 L567.79,197.46 L569.30,197.32 L570.81,197.18 L572.31,197.04 L573.82,196.91 L575.33,196.78 L576.83,196.66 L578.34,196.53 L579.85,196.41 L581.35,196.30 L582.86,196.19 L584.37,196.08 L585.87,195.98 L587.38,195.88 L588.89,195.78 L590.39,195.69 L591.90,195.60 L591.90,201.60 L590.39,201.60 L588.89,201.61 L587.38,201.62 L585.87,201.63 L584.37,201.65 L582.86,201.67 L581.35,201.70 L579.85,201.73 L578.34,201.76 L576.83,201.80 L575.33,201.84 L573.82,201.89 L572.31,201.93 L570.81,201.98 L569.30,202.03 L567.79,202.09 L566.29,202.15 L564.78,202.21 L563.27,202.27 L561.77,202.34 L560.26,202.41 L558.75,202.48 L557.25,202.55 L555.74,202.62 L554.23,202.70 L552.73,202.78 L551.22,202.86 L549.71,202.94 L548.21,203.02 L546.70,203.11 L545.19,203.19 L543.69,203.28 L542.18,203.37 L540.67,203.46 L539.16,203.55 L537.66,203.66 L536.15,203.79 L534.64,203.93 L533.14,204.09 L531.63,204.26 L530.12,204.45 L528.62,204.65 L527.11,204.86 L525.60,205.08 L524.10,205.31 L522.59,205.55 L521.08,205.80 L519.58,206.05 L518.07,206.31 L516.56,206.58 L515.06,206.85 L513.55,207.12 L512.04,207.40 L510.54,207.68 L509.03,207.96 L507.52,208.24 L506.02,208.51 L504.51,208.79 L503.00,209.06 L501.50,209.33 L499.99,209.59 L498.48,209.85 L496.98,210.10 L495.47,210.35 L493.96,210.58 L492.46,210.83 L490.95,211.08 L489.44,211.33 L487.94,211.60 L486.43,211.87 L484.92,212.14 L483.42,212.42 L481.91,212.70 L480.40,212.98 L478.90,213.26 L477.39,213.54 L475.88,213.82 L474.38,214.10 L472.87,214.38 L471.36,214.65 L469.86,214.91 L468.35,215.17 L466.84,215.43 L465.34,215.67 L463.83,215.91 L462.32,216.13 L460.82,216.35 L459.31,216.55 L457.80,216.75 L456.30,216.92 L454.79,217.09 L453.28,217.24 L451.78,217.37 L450.27,217.48 L448.76,217.58 L447.26,217.68 L445.75,217.78 L444.24,217.88 L442.74,217.98 L441.23,218.08 L439.72,218.17 L438.21,218.27 L436.71,218.36 L435.20,218.45 L433.69,218.54 L432.19,218.63 L430.68,218.71 L429.17,218.80 L427.67,218.88 L426.16,218.96 L424.65,219.03 L423.15,219.11 L421.64,219.18 L420.13,219.25 L418.63,219.32 L417.12,219.39 L415.61,219.45 L414.11,219.51 L412.60,219.56 L411.09,219.62 L409.59,219.67 L408.08,219.71 L406.57,219.76 L405.07,219.80 L403.56,219.84 L402.05,219.87 L400.55,219.90 L399.04,219.93 L397.53,219.95 L396.03,219.97 L394.52,219.98 L393.01,219.99 L391.51,220.00 L390.00,220.00 Z" fill="#fba214" fill-opacity="0.16" stroke="none"/>
<line x1="494.70" y1="46.1" x2="494.70" y2="253.0" stroke="#262626" stroke-width="1.4" stroke-dasharray="4.0 4.07"/>
<path d="M390.30,222.38 L391.80,222.56 L393.31,222.72 L394.81,222.87 L396.32,223.00 L397.82,223.11 L399.33,223.21 L400.83,223.29 L402.34,223.35 L403.84,223.40 L405.34,223.43 L406.85,223.44 L408.35,223.44 L409.86,223.42 L411.36,223.39 L412.87,223.34 L414.37,223.28 L415.88,223.21 L417.38,223.12 L418.89,223.01 L420.39,222.89 L421.89,222.76 L423.40,222.62 L424.90,222.46 L426.41,222.29 L427.91,222.10 L429.42,221.91 L430.92,221.70 L432.43,221.48 L433.93,221.24 L435.43,221.00 L436.94,220.75 L438.44,220.48 L439.95,220.20 L441.45,219.92 L442.96,219.62 L444.46,219.31 L445.97,218.99 L447.47,218.66 L448.97,218.33 L450.48,217.98 L451.98,217.63 L453.49,217.26 L454.99,216.89 L456.50,216.51 L458.00,216.12 L459.51,215.72 L461.01,215.32 L462.51,214.91 L464.02,214.49 L465.52,214.06 L467.03,213.63 L468.53,213.19 L470.04,212.75 L471.54,212.30 L473.05,211.84 L474.55,211.38 L476.06,210.91 L477.56,210.44 L479.06,209.96 L480.57,209.48 L482.07,208.99 L483.58,208.50 L485.08,208.01 L486.59,207.51 L488.09,207.01 L489.60,206.50 L491.10,205.99 L492.60,205.48 L494.11,204.97 L495.61,204.45 L497.12,203.94 L498.62,203.42 L500.13,202.90 L501.63,202.38 L503.14,201.85 L504.64,201.33 L506.14,200.81 L507.65,200.28 L509.15,199.76 L510.66,199.23 L512.16,198.71 L513.67,198.19 L515.17,197.66 L516.68,197.14 L518.18,196.62 L519.69,196.11 L521.19,195.59 L522.69,195.08 L524.20,194.56 L525.70,194.06 L527.21,193.55 L528.71,193.05 L530.22,192.55 L531.72,192.05 L533.23,191.56 L534.73,191.07 L536.23,190.59 L537.74,190.11 L539.24,189.63 L540.75,189.16 L542.25,188.70 L543.76,188.24 L545.26,187.79 L546.77,187.34 L548.27,186.90 L549.77,186.46 L551.28,186.04 L552.78,185.62 L554.29,185.20 L555.79,184.80 L557.30,184.40 L558.80,184.01 L560.31,183.62 L561.81,183.25 L563.31,182.88 L564.82,182.53 L566.32,182.18 L567.83,181.84 L569.33,181.51 L570.84,181.19 L572.34,180.89 L573.85,180.59 L575.35,180.30 L576.86,180.02 L578.36,179.76 L579.86,179.50 L581.37,179.26 L582.87,179.03 L584.38,178.81 L585.88,178.60 L587.39,178.41 L588.89,178.22 L590.40,178.05 L591.90,177.90" fill="none" stroke="#6abd45" stroke-width="1.9" stroke-linecap="butt"/>
<path d="M390.30,218.50 L391.80,218.63 L393.31,218.74 L394.81,218.84 L396.32,218.93 L397.82,219.02 L399.33,219.09 L400.83,219.15 L402.34,219.20 L403.84,219.24 L405.34,219.27 L406.85,219.29 L408.35,219.30 L409.86,219.30 L411.36,219.30 L412.87,219.28 L414.37,219.26 L415.88,219.23 L417.38,219.18 L418.89,219.13 L420.39,219.08 L421.89,219.01 L423.40,218.94 L424.90,218.86 L426.41,218.77 L427.91,218.67 L429.42,218.57 L430.92,218.46 L432.43,218.34 L433.93,218.21 L435.43,218.08 L436.94,217.95 L438.44,217.80 L439.95,217.65 L441.45,217.50 L442.96,217.33 L444.46,217.17 L445.97,216.99 L447.47,216.82 L448.97,216.63 L450.48,216.44 L451.98,216.25 L453.49,216.05 L454.99,215.85 L456.50,215.64 L458.00,215.43 L459.51,215.22 L461.01,215.00 L462.51,214.77 L464.02,214.55 L465.52,214.32 L467.03,214.08 L468.53,213.85 L470.04,213.61 L471.54,213.36 L473.05,213.12 L474.55,212.87 L476.06,212.62 L477.56,212.37 L479.06,212.11 L480.57,211.86 L482.07,211.60 L483.58,211.34 L485.08,211.08 L486.59,210.82 L488.09,210.55 L489.60,210.29 L491.10,210.02 L492.60,209.76 L494.11,209.49 L495.61,209.22 L497.12,208.96 L498.62,208.69 L500.13,208.42 L501.63,208.16 L503.14,207.89 L504.64,207.63 L506.14,207.36 L507.65,207.10 L509.15,206.83 L510.66,206.57 L512.16,206.31 L513.67,206.05 L515.17,205.80 L516.68,205.54 L518.18,205.29 L519.69,205.04 L521.19,204.79 L522.69,204.54 L524.20,204.30 L525.70,204.06 L527.21,203.82 L528.71,203.59 L530.22,203.36 L531.72,203.13 L533.23,202.91 L534.73,202.69 L536.23,202.47 L537.74,202.26 L539.24,202.05 L540.75,201.84 L542.25,201.64 L543.76,201.45 L545.26,201.26 L546.77,201.08 L548.27,200.90 L549.77,200.72 L551.28,200.55 L552.78,200.39 L554.29,200.23 L555.79,200.08 L557.30,199.93 L558.80,199.80 L560.31,199.66 L561.81,199.54 L563.31,199.42 L564.82,199.30 L566.32,199.20 L567.83,199.10 L569.33,199.01 L570.84,198.92 L572.34,198.85 L573.85,198.78 L575.35,198.72 L576.86,198.67 L578.36,198.63 L579.86,198.59 L581.37,198.56 L582.87,198.55 L584.38,198.54 L585.88,198.54 L587.39,198.55 L588.89,198.56 L590.40,198.59 L591.90,198.63" fill="none" stroke="#fba214" stroke-width="1.9" stroke-linecap="butt"/>
<path d="M390.30,230.89 L391.80,231.04 L393.30,231.18 L394.80,231.30 L396.30,231.41 L397.80,231.51 L399.30,231.59 L400.81,231.66 L402.31,231.72 L403.81,231.76 L405.31,231.79 L406.81,231.80 L408.31,231.79 L409.81,231.78 L411.31,231.74 L412.81,231.69 L414.31,231.62 L415.81,231.54 L417.31,231.44 L418.81,231.32 L420.31,231.18 L421.82,231.03 L423.32,230.86 L424.82,230.67 L426.32,230.46 L427.82,230.23 L429.32,229.99 L430.82,229.72 L432.32,229.44 L433.82,229.13 L435.32,228.81 L436.82,228.46 L438.32,228.10 L439.82,227.71 L441.33,227.31 L442.83,226.88 L444.33,226.43 L445.83,225.96 L447.33,225.46 L448.83,224.95 L450.33,224.41 L451.83,223.85 L453.33,223.26 L454.83,222.66 L456.33,222.02 L457.83,221.37 L459.33,220.69 L460.84,219.99 L462.34,219.26 L463.84,218.50 L465.34,217.73 L466.84,216.92 L468.34,216.09 L469.84,215.24 L471.34,214.35 L472.84,213.44 L474.34,212.51 L475.84,211.55 L477.34,210.56 L478.84,209.54 L480.34,208.50 L481.85,207.43 L483.35,206.33 L484.85,205.21 L486.35,204.07 L487.85,202.90 L489.35,201.72 L490.85,200.51 L492.35,199.28 L493.85,198.04 L495.35,196.77 L496.85,195.49 L498.35,194.19 L499.85,192.88 L501.36,191.55 L502.86,190.20 L504.36,188.85 L505.86,187.48 L507.36,186.10 L508.86,184.71 L510.36,183.31 L511.86,181.90 L513.36,180.48 L514.86,179.05 L516.36,177.62 L517.86,176.19 L519.36,174.75 L520.86,173.30 L522.37,171.85 L523.87,170.40 L525.37,168.95 L526.87,167.50 L528.37,166.05 L529.87,164.60 L531.37,163.16 L532.87,161.71 L534.37,160.27 L535.87,158.84 L537.37,157.41 L538.87,155.98 L540.37,154.57 L541.88,153.16 L543.38,151.76 L544.88,150.38 L546.38,149.00 L547.88,147.63 L549.38,146.28 L550.88,144.93 L552.38,143.60 L553.88,142.28 L555.38,140.97 L556.88,139.67 L558.38,138.38 L559.88,137.10 L561.39,135.83 L562.89,134.57 L564.39,133.32 L565.89,132.08 L567.39,130.85 L568.89,129.62 L570.39,128.41 L571.89,127.21 L573.39,126.01 L574.89,124.82 L576.39,123.64 L577.89,122.47 L579.39,121.31 L580.89,120.15 L582.40,119.00 L583.90,117.86 L585.40,116.73 L586.90,115.60 L588.40,114.48 L589.90,113.37 L591.40,112.26" fill="none" stroke="#f15a29" stroke-width="1.9" stroke-linecap="butt"/>
<path d="M390.30,233.69 L391.80,233.63 L393.30,233.58 L394.80,233.51 L396.30,233.44 L397.80,233.36 L399.30,233.28 L400.81,233.18 L402.31,233.08 L403.81,232.97 L405.31,232.86 L406.81,232.74 L408.31,232.61 L409.81,232.47 L411.31,232.32 L412.81,232.16 L414.31,232.00 L415.81,231.83 L417.31,231.64 L418.81,231.45 L420.31,231.25 L421.82,231.04 L423.32,230.82 L424.82,230.59 L426.32,230.35 L427.82,230.10 L429.32,229.85 L430.82,229.58 L432.32,229.30 L433.82,229.00 L435.32,228.70 L436.82,228.39 L438.32,228.07 L439.82,227.73 L441.33,227.38 L442.83,227.03 L444.33,226.66 L445.83,226.27 L447.33,225.87 L448.83,225.46 L450.33,225.03 L451.83,224.59 L453.33,224.13 L454.83,223.65 L456.33,223.16 L457.83,222.64 L459.33,222.11 L460.84,221.55 L462.34,220.97 L463.84,220.37 L465.34,219.75 L466.84,219.10 L468.34,218.43 L469.84,217.73 L471.34,217.01 L472.84,216.26 L474.34,215.48 L475.84,214.68 L477.34,213.84 L478.84,212.98 L480.34,212.08 L481.85,211.16 L483.35,210.20 L484.85,209.22 L486.35,208.20 L487.85,207.16 L489.35,206.09 L490.85,204.98 L492.35,203.85 L493.85,202.69 L495.35,201.50 L496.85,200.28 L498.35,199.03 L499.85,197.75 L501.36,196.44 L502.86,195.10 L504.36,193.73 L505.86,192.34 L507.36,190.91 L508.86,189.46 L510.36,187.98 L511.86,186.47 L513.36,184.93 L514.86,183.36 L516.36,181.76 L517.86,180.14 L519.36,178.49 L520.86,176.82 L522.37,175.12 L523.87,173.40 L525.37,171.65 L526.87,169.88 L528.37,168.10 L529.87,166.29 L531.37,164.46 L532.87,162.61 L534.37,160.75 L535.87,158.86 L537.37,156.96 L538.87,155.05 L540.37,153.12 L541.88,151.17 L543.38,149.21 L544.88,147.23 L546.38,145.24 L547.88,143.24 L549.38,141.22 L550.88,139.18 L552.38,137.13 L553.88,135.06 L555.38,132.97 L556.88,130.87 L558.38,128.76 L559.88,126.62 L561.39,124.47 L562.89,122.31 L564.39,120.12 L565.89,117.92 L567.39,115.70 L568.89,113.46 L570.39,111.21 L571.89,108.94 L573.39,106.65 L574.89,104.34 L576.39,102.01 L577.89,99.67 L579.39,97.30 L580.89,94.92 L582.40,92.52 L583.90,90.10 L585.40,87.66 L586.90,85.20 L588.40,82.72 L589.90,80.22 L591.40,77.70" fill="none" stroke="#bf1e2e" stroke-width="1.9" stroke-linecap="butt"/>
<line x1="389.4" y1="43" x2="389.4" y2="253.6" stroke="#555555" stroke-width="1.1"/>
<line x1="389.4" y1="253.0" x2="599.6" y2="253.0" stroke="#555555" stroke-width="1.1"/>
<line x1="387.4" y1="52.30" x2="389.4" y2="52.30" stroke="#555555" stroke-width="1"/>
<text x="386.59999999999997" y="54.40" text-anchor="end" font-size="11.1" fill="#262626">1.0</text>
<line x1="387.4" y1="69.65" x2="389.4" y2="69.65" stroke="#555555" stroke-width="1"/>
<text x="386.59999999999997" y="71.75" text-anchor="end" font-size="11.1" fill="#262626">0.9</text>
<line x1="387.4" y1="87.00" x2="389.4" y2="87.00" stroke="#555555" stroke-width="1"/>
<text x="386.59999999999997" y="89.10" text-anchor="end" font-size="11.1" fill="#262626">0.8</text>
<line x1="387.4" y1="104.35" x2="389.4" y2="104.35" stroke="#555555" stroke-width="1"/>
<text x="386.59999999999997" y="106.45" text-anchor="end" font-size="11.1" fill="#262626">0.7</text>
<line x1="387.4" y1="121.70" x2="389.4" y2="121.70" stroke="#555555" stroke-width="1"/>
<text x="386.59999999999997" y="123.80" text-anchor="end" font-size="11.1" fill="#262626">0.6</text>
<line x1="387.4" y1="139.05" x2="389.4" y2="139.05" stroke="#555555" stroke-width="1"/>
<text x="386.59999999999997" y="141.15" text-anchor="end" font-size="11.1" fill="#262626">0.5</text>
<line x1="387.4" y1="156.40" x2="389.4" y2="156.40" stroke="#555555" stroke-width="1"/>
<text x="386.59999999999997" y="158.50" text-anchor="end" font-size="11.1" fill="#262626">0.4</text>
<line x1="387.4" y1="173.75" x2="389.4" y2="173.75" stroke="#555555" stroke-width="1"/>
<text x="386.59999999999997" y="175.85" text-anchor="end" font-size="11.1" fill="#262626">0.3</text>
<line x1="387.4" y1="191.10" x2="389.4" y2="191.10" stroke="#555555" stroke-width="1"/>
<text x="386.59999999999997" y="193.20" text-anchor="end" font-size="11.1" fill="#262626">0.2</text>
<line x1="387.4" y1="208.45" x2="389.4" y2="208.45" stroke="#555555" stroke-width="1"/>
<text x="386.59999999999997" y="210.55" text-anchor="end" font-size="11.1" fill="#262626">0.1</text>
<line x1="387.4" y1="225.80" x2="389.4" y2="225.80" stroke="#555555" stroke-width="1"/>
<text x="386.59999999999997" y="227.90" text-anchor="end" font-size="11.1" fill="#262626">0.0</text>
<line x1="387.4" y1="243.15" x2="389.4" y2="243.15" stroke="#555555" stroke-width="1"/>
<text x="386.59999999999997" y="245.25" text-anchor="end" font-size="11.1" fill="#262626">−0.1</text>
<line x1="430.70" y1="253.0" x2="430.70" y2="255.0" stroke="#555555" stroke-width="1"/>
<text x="430.70" y="265.60" text-anchor="middle" font-size="11.4" fill="#262626">−10</text>
<line x1="494.70" y1="253.0" x2="494.70" y2="255.0" stroke="#555555" stroke-width="1"/>
<text x="494.70" y="265.60" text-anchor="middle" font-size="11.4" fill="#262626">0</text>
<line x1="558.70" y1="253.0" x2="558.70" y2="255.0" stroke="#555555" stroke-width="1"/>
<text x="558.70" y="265.60" text-anchor="middle" font-size="11.4" fill="#262626">10</text>
<text x="494.7" y="281.3" text-anchor="middle" font-size="13.45" font-weight="bold" fill="#000">Estimated Tau-PET+ years</text>
<text transform="translate(357.8,148.4) rotate(-90)" x="0" y="0" text-anchor="middle" font-size="11.3" font-weight="bold" fill="#000">Biomarker Slope (z-score)</text>
<line x1="602.6" y1="76.8" x2="609.1" y2="76.8" stroke="#bf1e2e" stroke-width="1.9"/>
<text x="611.7" y="79.6" font-size="11.5" fill="#262626">MTBR-tau243</text>
<line x1="602.6" y1="110.3" x2="609.1" y2="110.3" stroke="#f15a29" stroke-width="1.9"/>
<text x="611.7" y="113.4" font-size="11.5" fill="#262626">MTBR-tau243/</text>
<text x="611.9" y="126.8" font-size="11.5" fill="#262626">np-tau</text>
<line x1="602.6" y1="177.2" x2="609.1" y2="177.2" stroke="#6abd45" stroke-width="1.9"/>
<text x="611.9" y="180.7" font-size="11.5" fill="#262626">%p-<tspan dx="-1.6">tau205</tspan></text>
<line x1="602.6" y1="197.9" x2="609.1" y2="197.9" stroke="#fba214" stroke-width="1.9"/>
<text x="611.9" y="201.3" font-size="11.5" fill="#262626">%p-<tspan dx="-1.6">tau217</tspan></text>
<line x1="41.4" y1="361.90" x2="264.5" y2="361.90" stroke="#ececec" stroke-width="0.9"/>
<line x1="41.4" y1="400.10" x2="264.5" y2="400.10" stroke="#ececec" stroke-width="0.9"/>
<line x1="41.4" y1="438.30" x2="264.5" y2="438.30" stroke="#ececec" stroke-width="0.9"/>
<line x1="41.4" y1="476.50" x2="264.5" y2="476.50" stroke="#ececec" stroke-width="0.9"/>
<line x1="41.4" y1="514.70" x2="264.5" y2="514.70" stroke="#ececec" stroke-width="0.9"/>
<line x1="41.4" y1="552.90" x2="264.5" y2="552.90" stroke="#ececec" stroke-width="0.9"/>
<line x1="78.70" y1="352.5" x2="78.70" y2="562.3" stroke="#ececec" stroke-width="0.9"/>
<line x1="133.60" y1="352.5" x2="133.60" y2="562.3" stroke="#ececec" stroke-width="0.9"/>
<line x1="188.50" y1="352.5" x2="188.50" y2="562.3" stroke="#ececec" stroke-width="0.9"/>
<line x1="243.40" y1="352.5" x2="243.40" y2="562.3" stroke="#ececec" stroke-width="0.9"/>
<path d="M41.70,504.00 L43.20,504.28 L44.71,504.55 L46.21,504.79 L47.72,505.02 L49.22,505.24 L50.73,505.44 L52.23,505.62 L53.74,505.79 L55.24,505.94 L56.75,506.08 L58.25,506.20 L59.76,506.32 L61.26,506.42 L62.77,506.51 L64.27,506.59 L65.78,506.66 L67.28,506.72 L68.79,506.77 L70.29,506.81 L71.80,506.84 L73.30,506.87 L74.80,506.88 L76.31,506.89 L77.81,506.90 L79.32,506.90 L80.82,506.87 L82.33,506.82 L83.83,506.75 L85.34,506.66 L86.84,506.54 L88.35,506.41 L89.85,506.25 L91.36,506.08 L92.86,505.88 L94.37,505.67 L95.87,505.44 L97.38,505.20 L98.88,504.94 L100.39,504.66 L101.89,504.37 L103.40,504.07 L104.90,503.75 L106.40,503.42 L107.91,503.08 L109.41,502.73 L110.92,502.37 L112.42,501.99 L113.93,501.61 L115.43,501.22 L116.94,500.83 L118.44,500.42 L119.95,500.01 L121.45,499.53 L122.96,498.90 L124.46,498.16 L125.97,497.34 L127.47,496.47 L128.98,495.58 L130.48,494.70 L131.99,493.86 L133.49,493.10 L135.00,492.40 L136.50,491.73 L138.00,491.07 L139.51,490.43 L141.01,489.80 L142.52,489.17 L144.02,488.54 L145.53,487.91 L147.03,487.28 L148.54,486.64 L150.04,485.98 L151.55,485.31 L153.05,484.64 L154.56,483.97 L156.06,483.29 L157.57,482.60 L159.07,481.92 L160.58,481.23 L162.08,480.54 L163.59,479.85 L165.09,479.16 L166.60,478.46 L168.10,477.77 L169.60,477.10 L171.11,476.44 L172.61,475.80 L174.12,475.16 L175.62,474.53 L177.13,473.91 L178.63,473.28 L180.14,472.65 L181.64,472.00 L183.15,471.34 L184.65,470.67 L186.16,469.97 L187.66,469.24 L189.17,468.49 L190.67,467.70 L192.18,466.87 L193.68,466.00 L195.19,465.08 L196.69,464.09 L198.20,463.01 L199.70,461.84 L201.20,460.61 L202.71,459.31 L204.21,457.95 L205.72,456.56 L207.22,455.12 L208.73,453.65 L210.23,452.17 L211.74,450.67 L213.24,449.18 L214.75,447.68 L216.25,446.21 L217.76,444.75 L219.26,443.32 L220.77,441.90 L222.27,440.49 L223.78,439.08 L225.28,437.67 L226.79,436.24 L228.29,434.80 L229.80,433.34 L231.30,431.86 L232.80,430.34 L234.31,428.78 L235.81,427.18 L237.32,425.53 L238.82,423.83 L240.33,422.07 L241.83,420.24 L243.34,418.34 L244.84,416.35 L246.35,414.25 L247.85,412.04 L249.36,409.73 L250.86,407.33 L252.37,404.85 L253.87,402.28 L255.38,399.64 L256.88,396.92 L258.39,394.15 L259.89,391.31 L261.40,388.43 L262.90,385.50 L262.90,479.00 L261.40,479.04 L259.89,479.09 L258.39,479.15 L256.88,479.21 L255.38,479.28 L253.87,479.36 L252.37,479.44 L250.86,479.53 L249.36,479.62 L247.85,479.71 L246.35,479.81 L244.84,479.91 L243.34,480.02 L241.83,480.13 L240.33,480.26 L238.82,480.40 L237.32,480.55 L235.81,480.70 L234.31,480.87 L232.80,481.04 L231.30,481.22 L229.80,481.41 L228.29,481.60 L226.79,481.79 L225.28,481.98 L223.78,482.18 L222.27,482.38 L220.77,482.58 L219.26,482.77 L217.76,482.97 L216.25,483.16 L214.75,483.35 L213.24,483.54 L211.74,483.73 L210.23,483.92 L208.73,484.12 L207.22,484.32 L205.72,484.52 L204.21,484.73 L202.71,484.95 L201.20,485.17 L199.70,485.41 L198.20,485.65 L196.69,485.90 L195.19,486.17 L193.68,486.45 L192.18,486.74 L190.67,487.05 L189.17,487.38 L187.66,487.71 L186.16,488.07 L184.65,488.43 L183.15,488.81 L181.64,489.19 L180.14,489.59 L178.63,490.00 L177.13,490.41 L175.62,490.84 L174.12,491.27 L172.61,491.71 L171.11,492.15 L169.60,492.60 L168.10,493.05 L166.60,493.51 L165.09,493.98 L163.59,494.45 L162.08,494.94 L160.58,495.45 L159.07,495.96 L157.57,496.48 L156.06,497.01 L154.56,497.55 L153.05,498.10 L151.55,498.66 L150.04,499.23 L148.54,499.81 L147.03,500.40 L145.53,501.00 L144.02,501.61 L142.52,502.22 L141.01,502.85 L139.51,503.48 L138.00,504.12 L136.50,504.77 L135.00,505.43 L133.49,506.09 L131.99,506.82 L130.48,507.62 L128.98,508.47 L127.47,509.34 L125.97,510.20 L124.46,511.03 L122.96,511.79 L121.45,512.46 L119.95,513.02 L118.44,513.51 L116.94,514.00 L115.43,514.48 L113.93,514.97 L112.42,515.44 L110.92,515.91 L109.41,516.38 L107.91,516.83 L106.40,517.27 L104.90,517.70 L103.40,518.12 L101.89,518.52 L100.39,518.91 L98.88,519.28 L97.38,519.64 L95.87,519.97 L94.37,520.28 L92.86,520.57 L91.36,520.84 L89.85,521.08 L88.35,521.30 L86.84,521.49 L85.34,521.65 L83.83,521.79 L82.33,521.89 L80.82,521.96 L79.32,521.99 L77.81,522.00 L76.31,522.00 L74.80,522.00 L73.30,521.99 L71.80,521.99 L70.29,521.98 L68.79,521.96 L67.28,521.94 L65.78,521.92 L64.27,521.88 L62.77,521.84 L61.26,521.79 L59.76,521.74 L58.25,521.67 L56.75,521.59 L55.24,521.50 L53.74,521.39 L52.23,521.27 L50.73,521.14 L49.22,520.99 L47.72,520.83 L46.21,520.65 L44.71,520.45 L43.20,520.24 L41.70,520.00 Z" fill="#915f1c" fill-opacity="0.1" stroke="none"/>
<path d="M41.70,514.00 L43.20,514.00 L44.71,513.99 L46.21,513.98 L47.72,513.97 L49.22,513.95 L50.73,513.93 L52.23,513.91 L53.74,513.88 L55.24,513.85 L56.75,513.81 L58.25,513.78 L59.76,513.74 L61.26,513.69 L62.77,513.65 L64.27,513.60 L65.78,513.54 L67.28,513.49 L68.79,513.43 L70.29,513.37 L71.80,513.31 L73.30,513.24 L74.80,513.18 L76.31,513.11 L77.81,513.03 L79.32,512.95 L80.82,512.83 L82.33,512.67 L83.83,512.47 L85.34,512.23 L86.84,511.95 L88.35,511.64 L89.85,511.29 L91.36,510.91 L92.86,510.50 L94.37,510.06 L95.87,509.60 L97.38,509.11 L98.88,508.60 L100.39,508.07 L101.89,507.52 L103.40,506.95 L104.90,506.36 L106.40,505.76 L107.91,505.15 L109.41,504.53 L110.92,503.90 L112.42,503.26 L113.93,502.62 L115.43,501.97 L116.94,501.32 L118.44,500.67 L119.95,500.02 L121.45,499.34 L122.96,498.57 L124.46,497.74 L125.97,496.86 L127.47,495.94 L128.98,494.99 L130.48,494.03 L131.99,493.07 L133.49,492.13 L135.00,491.19 L136.50,490.24 L138.00,489.27 L139.51,488.29 L141.01,487.30 L142.52,486.30 L144.02,485.29 L145.53,484.27 L147.03,483.24 L148.54,482.21 L150.04,481.18 L151.55,480.14 L153.05,479.10 L154.56,478.06 L156.06,477.03 L157.57,476.00 L159.07,474.97 L160.58,473.95 L162.08,472.93 L163.59,471.93 L165.09,470.93 L166.60,469.95 L168.10,468.98 L169.60,468.03 L171.11,467.09 L172.61,466.16 L174.12,465.25 L175.62,464.34 L177.13,463.44 L178.63,462.54 L180.14,461.64 L181.64,460.75 L183.15,459.84 L184.65,458.93 L186.16,458.01 L187.66,457.08 L189.17,456.14 L190.67,455.18 L192.18,454.20 L193.68,453.20 L195.19,452.17 L196.69,451.12 L198.20,450.06 L199.70,448.97 L201.20,447.86 L202.71,446.74 L204.21,445.61 L205.72,444.46 L207.22,443.29 L208.73,442.12 L210.23,440.93 L211.74,439.74 L213.24,438.53 L214.75,437.32 L216.25,436.11 L217.76,434.89 L219.26,433.68 L220.77,432.46 L222.27,431.25 L223.78,430.04 L225.28,428.82 L226.79,427.59 L228.29,426.36 L229.80,425.11 L231.30,423.85 L232.80,422.58 L234.31,421.28 L235.81,419.96 L237.32,418.62 L238.82,417.25 L240.33,415.85 L241.83,414.42 L243.34,412.96 L244.84,411.46 L246.35,409.92 L247.85,408.32 L249.36,406.66 L250.86,404.96 L252.37,403.22 L253.87,401.43 L255.38,399.60 L256.88,397.74 L258.39,395.85 L259.89,393.92 L261.40,391.97 L262.90,390.00 L262.90,455.30 L261.40,455.33 L259.89,455.37 L258.39,455.41 L256.88,455.45 L255.38,455.50 L253.87,455.56 L252.37,455.61 L250.86,455.67 L249.36,455.74 L247.85,455.80 L246.35,455.87 L244.84,455.94 L243.34,456.01 L241.83,456.09 L240.33,456.16 L238.82,456.24 L237.32,456.32 L235.81,456.40 L234.31,456.49 L232.80,456.59 L231.30,456.69 L229.80,456.79 L228.29,456.91 L226.79,457.03 L225.28,457.16 L223.78,457.30 L222.27,457.45 L220.77,457.61 L219.26,457.78 L217.76,457.97 L216.25,458.19 L214.75,458.48 L213.24,458.84 L211.74,459.26 L210.23,459.73 L208.73,460.25 L207.22,460.81 L205.72,461.40 L204.21,462.02 L202.71,462.66 L201.20,463.31 L199.70,463.97 L198.20,464.63 L196.69,465.28 L195.19,465.92 L193.68,466.56 L192.18,467.21 L190.67,467.87 L189.17,468.55 L187.66,469.25 L186.16,469.96 L184.65,470.69 L183.15,471.44 L181.64,472.20 L180.14,472.97 L178.63,473.76 L177.13,474.57 L175.62,475.39 L174.12,476.22 L172.61,477.07 L171.11,477.93 L169.60,478.81 L168.10,479.70 L166.60,480.61 L165.09,481.57 L163.59,482.57 L162.08,483.61 L160.58,484.69 L159.07,485.79 L157.57,486.92 L156.06,488.08 L154.56,489.25 L153.05,490.43 L151.55,491.62 L150.04,492.82 L148.54,494.02 L147.03,495.22 L145.53,496.41 L144.02,497.58 L142.52,498.74 L141.01,499.88 L139.51,501.00 L138.00,502.09 L136.50,503.14 L135.00,504.16 L133.49,505.13 L131.99,506.10 L130.48,507.08 L128.98,508.07 L127.47,509.05 L125.97,510.03 L124.46,510.99 L122.96,511.94 L121.45,512.86 L119.95,513.75 L118.44,514.61 L116.94,515.42 L115.43,516.19 L113.93,516.91 L112.42,517.57 L110.92,518.17 L109.41,518.70 L107.91,519.21 L106.40,519.72 L104.90,520.21 L103.40,520.70 L101.89,521.17 L100.39,521.63 L98.88,522.07 L97.38,522.50 L95.87,522.91 L94.37,523.30 L92.86,523.68 L91.36,524.04 L89.85,524.37 L88.35,524.68 L86.84,524.97 L85.34,525.24 L83.83,525.47 L82.33,525.69 L80.82,525.87 L79.32,526.03 L77.81,526.16 L76.31,526.28 L74.80,526.40 L73.30,526.51 L71.80,526.63 L70.29,526.74 L68.79,526.85 L67.28,526.95 L65.78,527.05 L64.27,527.14 L62.77,527.23 L61.26,527.32 L59.76,527.40 L58.25,527.47 L56.75,527.54 L55.24,527.61 L53.74,527.67 L52.23,527.72 L50.73,527.77 L49.22,527.81 L47.72,527.84 L46.21,527.87 L44.71,527.88 L43.20,527.90 L41.70,527.90 Z" fill="#fdc877" fill-opacity="0.22" stroke="none"/>
<path d="M41.70,500.50 L43.20,500.50 L44.71,500.48 L46.21,500.46 L47.72,500.43 L49.22,500.38 L50.73,500.33 L52.23,500.28 L53.74,500.21 L55.24,500.13 L56.75,500.05 L58.25,499.96 L59.76,499.86 L61.26,499.75 L62.77,499.63 L64.27,499.51 L65.78,499.38 L67.28,499.24 L68.79,499.10 L70.29,498.95 L71.80,498.79 L73.30,498.62 L74.80,498.45 L76.31,498.27 L77.81,498.09 L79.32,497.89 L80.82,497.70 L82.33,497.49 L83.83,497.29 L85.34,497.07 L86.84,496.85 L88.35,496.63 L89.85,496.40 L91.36,496.16 L92.86,495.92 L94.37,495.67 L95.87,495.42 L97.38,495.17 L98.88,494.91 L100.39,494.65 L101.89,494.38 L103.40,494.11 L104.90,493.83 L106.40,493.55 L107.91,493.27 L109.41,492.98 L110.92,492.69 L112.42,492.40 L113.93,492.10 L115.43,491.81 L116.94,491.50 L118.44,491.20 L119.95,490.89 L121.45,490.59 L122.96,490.27 L124.46,489.96 L125.97,489.65 L127.47,489.33 L128.98,489.01 L130.48,488.69 L131.99,488.37 L133.49,488.05 L135.00,487.69 L136.50,487.27 L138.00,486.79 L139.51,486.27 L141.01,485.72 L142.52,485.15 L144.02,484.57 L145.53,484.01 L147.03,483.46 L148.54,482.95 L150.04,482.49 L151.55,482.05 L153.05,481.61 L154.56,481.18 L156.06,480.74 L157.57,480.31 L159.07,479.87 L160.58,479.44 L162.08,479.01 L163.59,478.58 L165.09,478.15 L166.60,477.72 L168.10,477.30 L169.60,476.88 L171.11,476.46 L172.61,476.05 L174.12,475.64 L175.62,475.23 L177.13,474.82 L178.63,474.43 L180.14,474.03 L181.64,473.64 L183.15,473.25 L184.65,472.87 L186.16,472.50 L187.66,472.13 L189.17,471.77 L190.67,471.41 L192.18,471.06 L193.68,470.71 L195.19,470.37 L196.69,470.04 L198.20,469.72 L199.70,469.40 L201.20,469.09 L202.71,468.79 L204.21,468.50 L205.72,468.21 L207.22,467.94 L208.73,467.67 L210.23,467.41 L211.74,467.16 L213.24,466.92 L214.75,466.69 L216.25,466.47 L217.76,466.27 L219.26,466.07 L220.77,465.89 L222.27,465.71 L223.78,465.55 L225.28,465.40 L226.79,465.25 L228.29,465.11 L229.80,464.97 L231.30,464.83 L232.80,464.70 L234.31,464.56 L235.81,464.42 L237.32,464.28 L238.82,464.13 L240.33,463.97 L241.83,463.81 L243.34,463.63 L244.84,463.45 L246.35,463.25 L247.85,463.06 L249.36,462.85 L250.86,462.64 L252.37,462.43 L253.87,462.21 L255.38,461.98 L256.88,461.75 L258.39,461.52 L259.89,461.28 L261.40,461.04 L262.90,460.80 L262.90,480.10 L261.40,479.76 L259.89,479.42 L258.39,479.09 L256.88,478.77 L255.38,478.45 L253.87,478.15 L252.37,477.85 L250.86,477.57 L249.36,477.30 L247.85,477.04 L246.35,476.80 L244.84,476.58 L243.34,476.36 L241.83,476.16 L240.33,475.94 L238.82,475.73 L237.32,475.51 L235.81,475.30 L234.31,475.09 L232.80,474.89 L231.30,474.70 L229.80,474.52 L228.29,474.35 L226.79,474.19 L225.28,474.05 L223.78,473.94 L222.27,473.84 L220.77,473.77 L219.26,473.72 L217.76,473.70 L216.25,473.71 L214.75,473.74 L213.24,473.79 L211.74,473.87 L210.23,473.97 L208.73,474.08 L207.22,474.22 L205.72,474.38 L204.21,474.56 L202.71,474.75 L201.20,474.96 L199.70,475.19 L198.20,475.43 L196.69,475.69 L195.19,475.96 L193.68,476.25 L192.18,476.55 L190.67,476.86 L189.17,477.19 L187.66,477.52 L186.16,477.87 L184.65,478.22 L183.15,478.59 L181.64,478.96 L180.14,479.34 L178.63,479.73 L177.13,480.12 L175.62,480.52 L174.12,480.93 L172.61,481.33 L171.11,481.74 L169.60,482.16 L168.10,482.58 L166.60,482.99 L165.09,483.41 L163.59,483.83 L162.08,484.25 L160.58,484.67 L159.07,485.08 L157.57,485.49 L156.06,485.90 L154.56,486.31 L153.05,486.71 L151.55,487.10 L150.04,487.49 L148.54,487.90 L147.03,488.36 L145.53,488.85 L144.02,489.36 L142.52,489.89 L141.01,490.41 L139.51,490.91 L138.00,491.39 L136.50,491.83 L135.00,492.22 L133.49,492.54 L131.99,492.84 L130.48,493.13 L128.98,493.43 L127.47,493.72 L125.97,494.01 L124.46,494.30 L122.96,494.58 L121.45,494.87 L119.95,495.15 L118.44,495.43 L116.94,495.71 L115.43,495.99 L113.93,496.27 L112.42,496.54 L110.92,496.81 L109.41,497.07 L107.91,497.34 L106.40,497.60 L104.90,497.85 L103.40,498.11 L101.89,498.36 L100.39,498.60 L98.88,498.84 L97.38,499.08 L95.87,499.32 L94.37,499.55 L92.86,499.77 L91.36,500.00 L89.85,500.21 L88.35,500.42 L86.84,500.63 L85.34,500.84 L83.83,501.03 L82.33,501.23 L80.82,501.41 L79.32,501.59 L77.81,501.77 L76.31,501.94 L74.80,502.11 L73.30,502.27 L71.80,502.42 L70.29,502.56 L68.79,502.70 L67.28,502.84 L65.78,502.97 L64.27,503.09 L62.77,503.20 L61.26,503.31 L59.76,503.41 L58.25,503.50 L56.75,503.58 L55.24,503.66 L53.74,503.73 L52.23,503.79 L50.73,503.85 L49.22,503.89 L47.72,503.93 L46.21,503.96 L44.71,503.98 L43.20,504.00 L41.70,504.00 Z" fill="#fba214" fill-opacity="0.16" stroke="none"/>
<line x1="133.60" y1="356.9" x2="133.60" y2="562.3" stroke="#262626" stroke-width="1.4" stroke-dasharray="4.0 4.05"/>
<path d="M41.80,520.78 L43.30,520.76 L44.81,520.76 L46.31,520.76 L47.81,520.77 L49.32,520.78 L50.82,520.79 L52.32,520.80 L53.83,520.82 L55.33,520.83 L56.83,520.84 L58.34,520.85 L59.84,520.85 L61.34,520.85 L62.85,520.84 L64.35,520.82 L65.85,520.79 L67.36,520.76 L68.86,520.71 L70.36,520.64 L71.87,520.57 L73.37,520.47 L74.87,520.36 L76.38,520.24 L77.88,520.09 L79.39,519.92 L80.89,519.74 L82.39,519.53 L83.90,519.30 L85.40,519.04 L86.90,518.77 L88.41,518.47 L89.91,518.14 L91.41,517.79 L92.92,517.42 L94.42,517.02 L95.92,516.60 L97.43,516.14 L98.93,515.67 L100.43,515.16 L101.94,514.63 L103.44,514.06 L104.94,513.47 L106.45,512.85 L107.95,512.20 L109.45,511.53 L110.96,510.83 L112.46,510.11 L113.96,509.36 L115.47,508.59 L116.97,507.80 L118.47,506.99 L119.98,506.16 L121.48,505.32 L122.98,504.45 L124.49,503.58 L125.99,502.69 L127.49,501.78 L129.00,500.87 L130.50,499.94 L132.00,499.01 L133.51,498.06 L135.01,497.11 L136.51,496.16 L138.02,495.20 L139.52,494.23 L141.02,493.26 L142.53,492.30 L144.03,491.33 L145.53,490.36 L147.04,489.39 L148.54,488.43 L150.04,487.46 L151.55,486.50 L153.05,485.54 L154.56,484.58 L156.06,483.62 L157.56,482.66 L159.07,481.71 L160.57,480.76 L162.07,479.80 L163.58,478.85 L165.08,477.91 L166.58,476.96 L168.09,476.02 L169.59,475.08 L171.09,474.14 L172.60,473.21 L174.10,472.28 L175.60,471.35 L177.11,470.42 L178.61,469.50 L180.11,468.58 L181.62,467.66 L183.12,466.74 L184.62,465.83 L186.13,464.93 L187.63,464.03 L189.13,463.13 L190.64,462.23 L192.14,461.34 L193.64,460.45 L195.15,459.57 L196.65,458.69 L198.15,457.81 L199.66,456.94 L201.16,456.08 L202.66,455.22 L204.17,454.36 L205.67,453.51 L207.17,452.66 L208.68,451.82 L210.18,450.98 L211.68,450.15 L213.19,449.33 L214.69,448.51 L216.19,447.69 L217.70,446.88 L219.20,446.08 L220.70,445.28 L222.21,444.49 L223.71,443.70 L225.21,442.92 L226.72,442.15 L228.22,441.38 L229.73,440.62 L231.23,439.86 L232.73,439.12 L234.24,438.38 L235.74,437.64 L237.24,436.91 L238.75,436.19 L240.25,435.48 L241.75,434.77 L243.26,434.07 L244.76,433.38 L246.26,432.70 L247.77,432.02 L249.27,431.35 L250.77,430.69 L252.28,430.04 L253.78,429.40 L255.28,428.76 L256.79,428.13 L258.29,427.51 L259.79,426.90 L261.30,426.29 L262.80,425.70" fill="none" stroke="#fdc877" stroke-width="1.8" stroke-linecap="butt"/>
<path d="M41.80,501.93 L43.30,502.04 L44.81,502.14 L46.31,502.23 L47.81,502.30 L49.32,502.36 L50.82,502.42 L52.32,502.45 L53.83,502.48 L55.33,502.50 L56.83,502.50 L58.34,502.50 L59.84,502.48 L61.34,502.45 L62.85,502.41 L64.35,502.36 L65.85,502.29 L67.36,502.22 L68.86,502.14 L70.36,502.04 L71.87,501.94 L73.37,501.82 L74.87,501.69 L76.38,501.55 L77.88,501.41 L79.39,501.25 L80.89,501.08 L82.39,500.90 L83.90,500.72 L85.40,500.52 L86.90,500.31 L88.41,500.09 L89.91,499.87 L91.41,499.63 L92.92,499.38 L94.42,499.13 L95.92,498.86 L97.43,498.59 L98.93,498.31 L100.43,498.01 L101.94,497.71 L103.44,497.40 L104.94,497.08 L106.45,496.76 L107.95,496.42 L109.45,496.08 L110.96,495.72 L112.46,495.36 L113.96,494.99 L115.47,494.61 L116.97,494.23 L118.47,493.83 L119.98,493.43 L121.48,493.02 L122.98,492.60 L124.49,492.18 L125.99,491.75 L127.49,491.32 L129.00,490.88 L130.50,490.43 L132.00,489.99 L133.51,489.53 L135.01,489.08 L136.51,488.62 L138.02,488.16 L139.52,487.70 L141.02,487.23 L142.53,486.77 L144.03,486.30 L145.53,485.83 L147.04,485.37 L148.54,484.90 L150.04,484.44 L151.55,483.97 L153.05,483.51 L154.56,483.05 L156.06,482.60 L157.56,482.14 L159.07,481.69 L160.57,481.25 L162.07,480.81 L163.58,480.37 L165.08,479.93 L166.58,479.51 L168.09,479.08 L169.59,478.66 L171.09,478.25 L172.60,477.84 L174.10,477.44 L175.60,477.04 L177.11,476.65 L178.61,476.26 L180.11,475.89 L181.62,475.52 L183.12,475.15 L184.62,474.80 L186.13,474.45 L187.63,474.11 L189.13,473.77 L190.64,473.45 L192.14,473.13 L193.64,472.83 L195.15,472.53 L196.65,472.24 L198.15,471.96 L199.66,471.69 L201.16,471.44 L202.66,471.19 L204.17,470.95 L205.67,470.72 L207.17,470.50 L208.68,470.30 L210.18,470.10 L211.68,469.92 L213.19,469.74 L214.69,469.57 L216.19,469.42 L217.70,469.27 L219.20,469.14 L220.70,469.01 L222.21,468.90 L223.71,468.79 L225.21,468.70 L226.72,468.61 L228.22,468.53 L229.73,468.47 L231.23,468.41 L232.73,468.36 L234.24,468.32 L235.74,468.29 L237.24,468.27 L238.75,468.26 L240.25,468.26 L241.75,468.27 L243.26,468.29 L244.76,468.31 L246.26,468.35 L247.77,468.39 L249.27,468.44 L250.77,468.50 L252.28,468.57 L253.78,468.65 L255.28,468.74 L256.79,468.83 L258.29,468.93 L259.79,469.05 L261.30,469.17 L262.80,469.30" fill="none" stroke="#fba214" stroke-width="1.9" stroke-linecap="butt"/>
<path d="M41.80,510.98 L43.30,511.51 L44.81,512.00 L46.31,512.45 L47.81,512.87 L49.32,513.25 L50.82,513.60 L52.32,513.91 L53.83,514.19 L55.33,514.43 L56.83,514.64 L58.34,514.82 L59.84,514.97 L61.34,515.09 L62.85,515.18 L64.35,515.24 L65.85,515.27 L67.36,515.27 L68.86,515.25 L70.36,515.20 L71.87,515.12 L73.37,515.02 L74.87,514.89 L76.38,514.74 L77.88,514.56 L79.39,514.36 L80.89,514.14 L82.39,513.89 L83.90,513.63 L85.40,513.34 L86.90,513.04 L88.41,512.71 L89.91,512.37 L91.41,512.01 L92.92,511.63 L94.42,511.23 L95.92,510.82 L97.43,510.39 L98.93,509.95 L100.43,509.49 L101.94,509.02 L103.44,508.54 L104.94,508.05 L106.45,507.54 L107.95,507.02 L109.45,506.49 L110.96,505.95 L112.46,505.40 L113.96,504.85 L115.47,504.28 L116.97,503.71 L118.47,503.13 L119.98,502.54 L121.48,501.95 L122.98,501.36 L124.49,500.76 L125.99,500.15 L127.49,499.55 L129.00,498.94 L130.50,498.33 L132.00,497.71 L133.51,497.10 L135.01,496.49 L136.51,495.88 L138.02,495.27 L139.52,494.66 L141.02,494.05 L142.53,493.45 L144.03,492.85 L145.53,492.26 L147.04,491.67 L148.54,491.09 L150.04,490.51 L151.55,489.94 L153.05,489.38 L154.56,488.83 L156.06,488.28 L157.56,487.75 L159.07,487.22 L160.57,486.70 L162.07,486.18 L163.58,485.67 L165.08,485.16 L166.58,484.66 L168.09,484.16 L169.59,483.66 L171.09,483.16 L172.60,482.65 L174.10,482.15 L175.60,481.65 L177.11,481.14 L178.61,480.63 L180.11,480.11 L181.62,479.58 L183.12,479.05 L184.62,478.51 L186.13,477.97 L187.63,477.41 L189.13,476.84 L190.64,476.26 L192.14,475.67 L193.64,475.07 L195.15,474.45 L196.65,473.81 L198.15,473.16 L199.66,472.49 L201.16,471.81 L202.66,471.10 L204.17,470.38 L205.67,469.64 L207.17,468.87 L208.68,468.08 L210.18,467.27 L211.68,466.43 L213.19,465.57 L214.69,464.69 L216.19,463.77 L217.70,462.83 L219.20,461.87 L220.70,460.88 L222.21,459.87 L223.71,458.85 L225.21,457.80 L226.72,456.74 L228.22,455.66 L229.73,454.57 L231.23,453.46 L232.73,452.35 L234.24,451.22 L235.74,450.09 L237.24,448.95 L238.75,447.80 L240.25,446.66 L241.75,445.51 L243.26,444.36 L244.76,443.21 L246.26,442.07 L247.77,440.93 L249.27,439.79 L250.77,438.67 L252.28,437.55 L253.78,436.44 L255.28,435.34 L256.79,434.26 L258.29,433.19 L259.79,432.14 L261.30,431.11 L262.80,430.09" fill="none" stroke="#915f1c" stroke-width="1.5" stroke-linecap="butt"/>
<line x1="41.4" y1="352.5" x2="41.4" y2="562.9" stroke="#555555" stroke-width="1.1"/>
<line x1="34.2" y1="562.3" x2="257.5" y2="562.3" stroke="#555555" stroke-width="1.1"/>
<line x1="39.4" y1="361.90" x2="41.4" y2="361.90" stroke="#555555" stroke-width="1"/>
<text x="38.6" y="364.00" text-anchor="end" font-size="11.1" fill="#262626">0.4</text>
<line x1="39.4" y1="400.10" x2="41.4" y2="400.10" stroke="#555555" stroke-width="1"/>
<text x="38.6" y="402.20" text-anchor="end" font-size="11.1" fill="#262626">0.3</text>
<line x1="39.4" y1="438.30" x2="41.4" y2="438.30" stroke="#555555" stroke-width="1"/>
<text x="38.6" y="440.40" text-anchor="end" font-size="11.1" fill="#262626">0.2</text>
<line x1="39.4" y1="476.50" x2="41.4" y2="476.50" stroke="#555555" stroke-width="1"/>
<text x="38.6" y="478.60" text-anchor="end" font-size="11.1" fill="#262626">0.1</text>
<line x1="39.4" y1="514.70" x2="41.4" y2="514.70" stroke="#555555" stroke-width="1"/>
<text x="38.6" y="516.80" text-anchor="end" font-size="11.1" fill="#262626">0.0</text>
<line x1="39.4" y1="552.90" x2="41.4" y2="552.90" stroke="#555555" stroke-width="1"/>
<text x="38.6" y="555.00" text-anchor="end" font-size="11.1" fill="#262626">−0.1</text>
<line x1="78.70" y1="562.3" x2="78.70" y2="564.3" stroke="#555555" stroke-width="1"/>
<text x="78.70" y="574.90" text-anchor="middle" font-size="11.4" fill="#262626">−10</text>
<line x1="133.60" y1="562.3" x2="133.60" y2="564.3" stroke="#555555" stroke-width="1"/>
<text x="133.60" y="574.90" text-anchor="middle" font-size="11.4" fill="#262626">0</text>
<line x1="188.50" y1="562.3" x2="188.50" y2="564.3" stroke="#555555" stroke-width="1"/>
<text x="188.50" y="574.90" text-anchor="middle" font-size="11.4" fill="#262626">10</text>
<line x1="243.40" y1="562.3" x2="243.40" y2="564.3" stroke="#555555" stroke-width="1"/>
<text x="243.40" y="574.90" text-anchor="middle" font-size="11.4" fill="#262626">20</text>
<text x="146" y="596" text-anchor="middle" font-size="13.45" font-weight="bold" fill="#000">Estimated Aβ-PET+ years</text>
<text transform="translate(8.3,457.7) rotate(-90)" x="0" y="0" text-anchor="middle" font-size="11.3" font-weight="bold" fill="#000">Biomarker Slope (z-score)</text>
<line x1="273" y1="424" x2="279.5" y2="424" stroke="#fdc877" stroke-width="1.9"/>
<text x="283.6" y="426.5" font-size="11.5" fill="#262626">p-<tspan dx="-1.6">tau217</tspan></text>
<line x1="273" y1="436.7" x2="279.5" y2="436.7" stroke="#915f1c" stroke-width="1.9"/>
<text x="283.6" y="439.5" font-size="11.5" fill="#262626">np-<tspan dx="-1.6">tau</tspan></text>
<text x="283.6" y="453.4" font-size="11.5" fill="#262626">mid-region</text>
<line x1="273" y1="469.7" x2="279.5" y2="469.7" stroke="#fba214" stroke-width="1.9"/>
<text x="283.6" y="472.8" font-size="11.5" fill="#262626">%p-<tspan dx="-1.6">tau217</tspan></text>
<line x1="389.4" y1="362.70" x2="613.5" y2="362.70" stroke="#ececec" stroke-width="0.9"/>
<line x1="389.4" y1="394.38" x2="613.5" y2="394.38" stroke="#ececec" stroke-width="0.9"/>
<line x1="389.4" y1="426.06" x2="613.5" y2="426.06" stroke="#ececec" stroke-width="0.9"/>
<line x1="389.4" y1="457.74" x2="613.5" y2="457.74" stroke="#ececec" stroke-width="0.9"/>
<line x1="389.4" y1="489.42" x2="613.5" y2="489.42" stroke="#ececec" stroke-width="0.9"/>
<line x1="389.4" y1="521.10" x2="613.5" y2="521.10" stroke="#ececec" stroke-width="0.9"/>
<line x1="389.4" y1="552.78" x2="613.5" y2="552.78" stroke="#ececec" stroke-width="0.9"/>
<line x1="433.50" y1="352.5" x2="433.50" y2="562.1" stroke="#ececec" stroke-width="0.9"/>
<line x1="501.40" y1="352.5" x2="501.40" y2="562.1" stroke="#ececec" stroke-width="0.9"/>
<line x1="569.30" y1="352.5" x2="569.30" y2="562.1" stroke="#ececec" stroke-width="0.9"/>
<path d="M390.00,514.50 L391.50,514.49 L393.01,514.45 L394.51,514.40 L396.01,514.32 L397.51,514.23 L399.02,514.11 L400.52,513.97 L402.02,513.82 L403.53,513.65 L405.03,513.46 L406.53,513.25 L408.03,513.03 L409.54,512.79 L411.04,512.54 L412.54,512.28 L414.04,512.00 L415.55,511.71 L417.05,511.41 L418.55,511.09 L420.06,510.77 L421.56,510.43 L423.06,510.09 L424.56,509.74 L426.07,509.38 L427.57,509.01 L429.07,508.64 L430.58,508.26 L432.08,507.87 L433.58,507.48 L435.08,507.01 L436.59,506.40 L438.09,505.68 L439.59,504.87 L441.10,503.97 L442.60,503.01 L444.10,502.00 L445.60,500.96 L447.11,499.91 L448.61,498.86 L450.11,497.83 L451.61,496.84 L453.12,495.91 L454.62,495.05 L456.12,494.27 L457.63,493.60 L459.13,493.05 L460.63,492.64 L462.13,492.27 L463.64,491.93 L465.14,491.62 L466.64,491.33 L468.15,491.07 L469.65,490.83 L471.15,490.60 L472.65,490.39 L474.16,490.19 L475.66,490.00 L477.16,489.82 L478.67,489.65 L480.17,489.48 L481.67,489.31 L483.17,489.13 L484.68,488.96 L486.18,488.77 L487.68,488.58 L489.18,488.38 L490.69,488.16 L492.19,487.93 L493.69,487.67 L495.20,487.40 L496.70,487.11 L498.20,486.78 L499.70,486.43 L501.21,486.05 L502.71,485.62 L504.21,485.11 L505.72,484.52 L507.22,483.86 L508.72,483.14 L510.22,482.35 L511.73,481.50 L513.23,480.59 L514.73,479.64 L516.23,478.63 L517.74,477.58 L519.24,476.49 L520.74,475.36 L522.25,474.20 L523.75,473.02 L525.25,471.80 L526.75,470.57 L528.26,469.32 L529.76,468.06 L531.26,466.78 L532.77,465.50 L534.27,464.22 L535.77,462.95 L537.27,461.68 L538.78,460.42 L540.28,459.17 L541.78,457.90 L543.29,456.60 L544.79,455.27 L546.29,453.90 L547.79,452.51 L549.30,451.08 L550.80,449.62 L552.30,448.14 L553.80,446.63 L555.31,445.10 L556.81,443.55 L558.31,441.97 L559.82,440.37 L561.32,438.75 L562.82,437.11 L564.32,435.45 L565.83,433.78 L567.33,432.09 L568.83,430.39 L570.34,428.67 L571.84,426.93 L573.34,425.17 L574.84,423.38 L576.35,421.57 L577.85,419.74 L579.35,417.88 L580.86,415.99 L582.36,414.08 L583.86,412.15 L585.36,410.20 L586.87,408.23 L588.37,406.23 L589.87,404.21 L591.37,402.16 L592.88,400.10 L594.38,398.01 L595.88,395.90 L597.39,393.77 L598.89,391.62 L600.39,389.44 L601.89,387.25 L603.40,385.04 L604.90,382.80 L604.90,434.90 L603.40,435.44 L601.89,436.01 L600.39,436.63 L598.89,437.28 L597.39,437.96 L595.88,438.69 L594.38,439.44 L592.88,440.23 L591.37,441.04 L589.87,441.89 L588.37,442.76 L586.87,443.67 L585.36,444.59 L583.86,445.55 L582.36,446.52 L580.86,447.52 L579.35,448.54 L577.85,449.58 L576.35,450.63 L574.84,451.71 L573.34,452.80 L571.84,453.90 L570.34,455.02 L568.83,456.18 L567.33,457.48 L565.83,458.93 L564.32,460.49 L562.82,462.16 L561.32,463.91 L559.82,465.72 L558.31,467.58 L556.81,469.46 L555.31,471.34 L553.80,473.20 L552.30,475.03 L550.80,476.80 L549.30,478.49 L547.79,480.09 L546.29,481.58 L544.79,482.93 L543.29,484.12 L541.78,485.14 L540.28,485.97 L538.78,486.64 L537.27,487.27 L535.77,487.86 L534.27,488.42 L532.77,488.94 L531.26,489.43 L529.76,489.89 L528.26,490.33 L526.75,490.75 L525.25,491.15 L523.75,491.53 L522.25,491.89 L520.74,492.25 L519.24,492.60 L517.74,492.94 L516.23,493.27 L514.73,493.61 L513.23,493.95 L511.73,494.29 L510.22,494.64 L508.72,495.01 L507.22,495.38 L505.72,495.77 L504.21,496.18 L502.71,496.61 L501.21,497.06 L499.70,497.52 L498.20,497.99 L496.70,498.45 L495.20,498.92 L493.69,499.39 L492.19,499.87 L490.69,500.34 L489.18,500.82 L487.68,501.30 L486.18,501.79 L484.68,502.28 L483.17,502.77 L481.67,503.27 L480.17,503.77 L478.67,504.27 L477.16,504.78 L475.66,505.30 L474.16,505.82 L472.65,506.34 L471.15,506.87 L469.65,507.41 L468.15,507.95 L466.64,508.50 L465.14,509.05 L463.64,509.61 L462.13,510.18 L460.63,510.76 L459.13,511.34 L457.63,511.96 L456.12,512.62 L454.62,513.29 L453.12,513.99 L451.61,514.71 L450.11,515.43 L448.61,516.17 L447.11,516.90 L445.60,517.63 L444.10,518.35 L442.60,519.05 L441.10,519.73 L439.59,520.39 L438.09,521.02 L436.59,521.61 L435.08,522.17 L433.58,522.67 L432.08,523.15 L430.58,523.63 L429.07,524.10 L427.57,524.56 L426.07,525.03 L424.56,525.48 L423.06,525.93 L421.56,526.37 L420.06,526.80 L418.55,527.23 L417.05,527.65 L415.55,528.06 L414.04,528.46 L412.54,528.85 L411.04,529.23 L409.54,529.60 L408.03,529.96 L406.53,530.31 L405.03,530.64 L403.53,530.96 L402.02,531.27 L400.52,531.56 L399.02,531.84 L397.51,532.11 L396.01,532.36 L394.51,532.60 L393.01,532.81 L391.50,533.02 L390.00,533.20 Z" fill="#915f1c" fill-opacity="0.1" stroke="none"/>
<path d="M390.00,517.00 L391.50,516.99 L393.01,516.97 L394.51,516.94 L396.01,516.90 L397.51,516.85 L399.02,516.78 L400.52,516.70 L402.02,516.62 L403.53,516.52 L405.03,516.41 L406.53,516.30 L408.03,516.17 L409.54,516.04 L411.04,515.89 L412.54,515.74 L414.04,515.58 L415.55,515.42 L417.05,515.25 L418.55,515.07 L420.06,514.88 L421.56,514.69 L423.06,514.49 L424.56,514.29 L426.07,514.08 L427.57,513.87 L429.07,513.66 L430.58,513.44 L432.08,513.21 L433.58,512.99 L435.08,512.73 L436.59,512.44 L438.09,512.10 L439.59,511.72 L441.10,511.30 L442.60,510.85 L444.10,510.37 L445.60,509.85 L447.11,509.31 L448.61,508.74 L450.11,508.14 L451.61,507.52 L453.12,506.89 L454.62,506.23 L456.12,505.57 L457.63,504.88 L459.13,504.19 L460.63,503.49 L462.13,502.78 L463.64,502.07 L465.14,501.36 L466.64,500.64 L468.15,499.93 L469.65,499.21 L471.15,498.46 L472.65,497.68 L474.16,496.88 L475.66,496.05 L477.16,495.21 L478.67,494.34 L480.17,493.45 L481.67,492.54 L483.17,491.60 L484.68,490.65 L486.18,489.68 L487.68,488.70 L489.18,487.69 L490.69,486.67 L492.19,485.64 L493.69,484.59 L495.20,483.52 L496.70,482.45 L498.20,481.36 L499.70,480.26 L501.21,479.14 L502.71,478.01 L504.21,476.84 L505.72,475.63 L507.22,474.39 L508.72,473.12 L510.22,471.82 L511.73,470.49 L513.23,469.13 L514.73,467.76 L516.23,466.36 L517.74,464.95 L519.24,463.52 L520.74,462.08 L522.25,460.62 L523.75,459.16 L525.25,457.69 L526.75,456.22 L528.26,454.74 L529.76,453.27 L531.26,451.79 L532.77,450.33 L534.27,448.87 L535.77,447.41 L537.27,445.97 L538.78,444.55 L540.28,443.14 L541.78,441.75 L543.29,440.37 L544.79,439.00 L546.29,437.64 L547.79,436.28 L549.30,434.93 L550.80,433.57 L552.30,432.21 L553.80,430.85 L555.31,429.48 L556.81,428.09 L558.31,426.69 L559.82,425.27 L561.32,423.84 L562.82,422.37 L564.32,420.88 L565.83,419.37 L567.33,417.82 L568.83,416.23 L570.34,414.61 L571.84,412.96 L573.34,411.28 L574.84,409.58 L576.35,407.85 L577.85,406.10 L579.35,404.32 L580.86,402.51 L582.36,400.68 L583.86,398.83 L585.36,396.95 L586.87,395.04 L588.37,393.11 L589.87,391.16 L591.37,389.19 L592.88,387.19 L594.38,385.17 L595.88,383.13 L597.39,381.06 L598.89,378.97 L600.39,376.86 L601.89,374.73 L603.40,372.57 L604.90,370.40 L604.90,411.00 L603.40,411.80 L601.89,412.61 L600.39,413.43 L598.89,414.26 L597.39,415.11 L595.88,415.97 L594.38,416.85 L592.88,417.73 L591.37,418.63 L589.87,419.53 L588.37,420.45 L586.87,421.38 L585.36,422.32 L583.86,423.27 L582.36,424.23 L580.86,425.21 L579.35,426.19 L577.85,427.18 L576.35,428.18 L574.84,429.18 L573.34,430.20 L571.84,431.23 L570.34,432.26 L568.83,433.30 L567.33,434.36 L565.83,435.44 L564.32,436.53 L562.82,437.64 L561.32,438.77 L559.82,439.91 L558.31,441.06 L556.81,442.23 L555.31,443.41 L553.80,444.60 L552.30,445.80 L550.80,447.02 L549.30,448.24 L547.79,449.47 L546.29,450.72 L544.79,451.97 L543.29,453.23 L541.78,454.49 L540.28,455.76 L538.78,457.05 L537.27,458.38 L535.77,459.75 L534.27,461.15 L532.77,462.58 L531.26,464.03 L529.76,465.50 L528.26,466.99 L526.75,468.49 L525.25,470.01 L523.75,471.52 L522.25,473.04 L520.74,474.55 L519.24,476.06 L517.74,477.55 L516.23,479.04 L514.73,480.50 L513.23,481.94 L511.73,483.35 L510.22,484.73 L508.72,486.07 L507.22,487.38 L505.72,488.64 L504.21,489.86 L502.71,491.03 L501.21,492.14 L499.70,493.22 L498.20,494.30 L496.70,495.36 L495.20,496.41 L493.69,497.45 L492.19,498.48 L490.69,499.48 L489.18,500.47 L487.68,501.45 L486.18,502.40 L484.68,503.33 L483.17,504.25 L481.67,505.14 L480.17,506.00 L478.67,506.84 L477.16,507.66 L475.66,508.45 L474.16,509.21 L472.65,509.94 L471.15,510.64 L469.65,511.31 L468.15,511.94 L466.64,512.55 L465.14,513.13 L463.64,513.69 L462.13,514.23 L460.63,514.75 L459.13,515.26 L457.63,515.75 L456.12,516.22 L454.62,516.69 L453.12,517.14 L451.61,517.58 L450.11,518.02 L448.61,518.44 L447.11,518.87 L445.60,519.28 L444.10,519.70 L442.60,520.12 L441.10,520.53 L439.59,520.95 L438.09,521.37 L436.59,521.80 L435.08,522.23 L433.58,522.68 L432.08,523.13 L430.58,523.58 L429.07,524.03 L427.57,524.49 L426.07,524.94 L424.56,525.38 L423.06,525.82 L421.56,526.24 L420.06,526.66 L418.55,527.06 L417.05,527.44 L415.55,527.81 L414.04,528.17 L412.54,528.54 L411.04,528.89 L409.54,529.25 L408.03,529.59 L406.53,529.93 L405.03,530.27 L403.53,530.59 L402.02,530.92 L400.52,531.23 L399.02,531.54 L397.51,531.84 L396.01,532.13 L394.51,532.41 L393.01,532.68 L391.50,532.95 L390.00,533.20 Z" fill="#fdc877" fill-opacity="0.22" stroke="none"/>
<path d="M390.00,507.00 L391.50,507.00 L393.01,506.99 L394.51,506.97 L396.01,506.95 L397.51,506.92 L399.02,506.88 L400.52,506.84 L402.02,506.79 L403.53,506.74 L405.03,506.68 L406.53,506.61 L408.03,506.54 L409.54,506.47 L411.04,506.39 L412.54,506.30 L414.04,506.21 L415.55,506.12 L417.05,506.02 L418.55,505.91 L420.06,505.81 L421.56,505.69 L423.06,505.58 L424.56,505.46 L426.07,505.34 L427.57,505.21 L429.07,505.08 L430.58,504.95 L432.08,504.81 L433.58,504.67 L435.08,504.53 L436.59,504.38 L438.09,504.24 L439.59,504.09 L441.10,503.94 L442.60,503.78 L444.10,503.63 L445.60,503.47 L447.11,503.31 L448.61,503.15 L450.11,502.99 L451.61,502.81 L453.12,502.61 L454.62,502.38 L456.12,502.13 L457.63,501.86 L459.13,501.56 L460.63,501.25 L462.13,500.92 L463.64,500.57 L465.14,500.20 L466.64,499.82 L468.15,499.42 L469.65,499.02 L471.15,498.60 L472.65,498.17 L474.16,497.73 L475.66,497.28 L477.16,496.83 L478.67,496.37 L480.17,495.90 L481.67,495.43 L483.17,494.96 L484.68,494.49 L486.18,494.02 L487.68,493.55 L489.18,493.08 L490.69,492.61 L492.19,492.15 L493.69,491.70 L495.20,491.25 L496.70,490.81 L498.20,490.38 L499.70,489.96 L501.21,489.55 L502.71,489.15 L504.21,488.74 L505.72,488.33 L507.22,487.91 L508.72,487.49 L510.22,487.07 L511.73,486.64 L513.23,486.21 L514.73,485.77 L516.23,485.34 L517.74,484.90 L519.24,484.46 L520.74,484.02 L522.25,483.57 L523.75,483.13 L525.25,482.69 L526.75,482.24 L528.26,481.80 L529.76,481.35 L531.26,480.91 L532.77,480.47 L534.27,480.03 L535.77,479.60 L537.27,479.16 L538.78,478.73 L540.28,478.30 L541.78,477.87 L543.29,477.45 L544.79,477.03 L546.29,476.62 L547.79,476.21 L549.30,475.81 L550.80,475.41 L552.30,475.02 L553.80,474.63 L555.31,474.25 L556.81,473.88 L558.31,473.51 L559.82,473.15 L561.32,472.80 L562.82,472.46 L564.32,472.12 L565.83,471.80 L567.33,471.48 L568.83,471.17 L570.34,470.87 L571.84,470.58 L573.34,470.29 L574.84,470.01 L576.35,469.73 L577.85,469.46 L579.35,469.19 L580.86,468.92 L582.36,468.66 L583.86,468.40 L585.36,468.15 L586.87,467.90 L588.37,467.66 L589.87,467.42 L591.37,467.19 L592.88,466.96 L594.38,466.73 L595.88,466.51 L597.39,466.30 L598.89,466.09 L600.39,465.89 L601.89,465.69 L603.40,465.49 L604.90,465.30 L604.90,476.10 L603.40,476.10 L601.89,476.10 L600.39,476.11 L598.89,476.11 L597.39,476.12 L595.88,476.13 L594.38,476.14 L592.88,476.15 L591.37,476.17 L589.87,476.18 L588.37,476.20 L586.87,476.22 L585.36,476.24 L583.86,476.26 L582.36,476.28 L580.86,476.30 L579.35,476.33 L577.85,476.35 L576.35,476.38 L574.84,476.40 L573.34,476.43 L571.84,476.46 L570.34,476.49 L568.83,476.52 L567.33,476.58 L565.83,476.67 L564.32,476.79 L562.82,476.93 L561.32,477.09 L559.82,477.28 L558.31,477.50 L556.81,477.73 L555.31,477.99 L553.80,478.26 L552.30,478.56 L550.80,478.87 L549.30,479.20 L547.79,479.55 L546.29,479.91 L544.79,480.28 L543.29,480.67 L541.78,481.07 L540.28,481.49 L538.78,481.91 L537.27,482.34 L535.77,482.78 L534.27,483.23 L532.77,483.69 L531.26,484.15 L529.76,484.61 L528.26,485.08 L526.75,485.55 L525.25,486.03 L523.75,486.50 L522.25,486.98 L520.74,487.45 L519.24,487.92 L517.74,488.39 L516.23,488.85 L514.73,489.31 L513.23,489.76 L511.73,490.21 L510.22,490.64 L508.72,491.07 L507.22,491.49 L505.72,491.90 L504.21,492.29 L502.71,492.68 L501.21,493.05 L499.70,493.42 L498.20,493.80 L496.70,494.19 L495.20,494.60 L493.69,495.00 L492.19,495.42 L490.69,495.84 L489.18,496.27 L487.68,496.70 L486.18,497.13 L484.68,497.56 L483.17,498.00 L481.67,498.43 L480.17,498.86 L478.67,499.29 L477.16,499.72 L475.66,500.14 L474.16,500.55 L472.65,500.96 L471.15,501.36 L469.65,501.75 L468.15,502.12 L466.64,502.49 L465.14,502.85 L463.64,503.19 L462.13,503.52 L460.63,503.83 L459.13,504.12 L457.63,504.40 L456.12,504.66 L454.62,504.90 L453.12,505.12 L451.61,505.31 L450.11,505.49 L448.61,505.65 L447.11,505.81 L445.60,505.96 L444.10,506.12 L442.60,506.27 L441.10,506.42 L439.59,506.57 L438.09,506.72 L436.59,506.87 L435.08,507.01 L433.58,507.15 L432.08,507.29 L430.58,507.43 L429.07,507.56 L427.57,507.69 L426.07,507.82 L424.56,507.94 L423.06,508.06 L421.56,508.18 L420.06,508.29 L418.55,508.40 L417.05,508.51 L415.55,508.61 L414.04,508.70 L412.54,508.79 L411.04,508.88 L409.54,508.96 L408.03,509.04 L406.53,509.11 L405.03,509.17 L403.53,509.23 L402.02,509.29 L400.52,509.34 L399.02,509.38 L397.51,509.41 L396.01,509.45 L394.51,509.47 L393.01,509.49 L391.50,509.50 L390.00,509.50 Z" fill="#fba214" fill-opacity="0.16" stroke="none"/>
<line x1="501.40" y1="356.9" x2="501.40" y2="562.1" stroke="#262626" stroke-width="1.4" stroke-dasharray="4.0 4.08"/>
<path d="M390.20,524.24 L391.70,524.21 L393.20,524.17 L394.70,524.11 L396.21,524.05 L397.71,523.97 L399.21,523.88 L400.71,523.78 L402.21,523.67 L403.71,523.55 L405.21,523.42 L406.72,523.28 L408.22,523.12 L409.72,522.95 L411.22,522.78 L412.72,522.59 L414.22,522.38 L415.72,522.17 L417.23,521.94 L418.73,521.70 L420.23,521.45 L421.73,521.18 L423.23,520.90 L424.73,520.61 L426.23,520.31 L427.73,519.99 L429.24,519.66 L430.74,519.32 L432.24,518.96 L433.74,518.59 L435.24,518.20 L436.74,517.81 L438.24,517.39 L439.75,516.97 L441.25,516.53 L442.75,516.07 L444.25,515.60 L445.75,515.12 L447.25,514.62 L448.75,514.10 L450.26,513.58 L451.76,513.03 L453.26,512.47 L454.76,511.90 L456.26,511.31 L457.76,510.70 L459.26,510.08 L460.77,509.45 L462.27,508.79 L463.77,508.12 L465.27,507.44 L466.77,506.74 L468.27,506.02 L469.77,505.29 L471.28,504.54 L472.78,503.77 L474.28,502.99 L475.78,502.18 L477.28,501.37 L478.78,500.53 L480.28,499.68 L481.79,498.81 L483.29,497.92 L484.79,497.02 L486.29,496.09 L487.79,495.15 L489.29,494.19 L490.79,493.22 L492.30,492.22 L493.80,491.21 L495.30,490.17 L496.80,489.12 L498.30,488.05 L499.80,486.95 L501.30,485.84 L502.80,484.70 L504.31,483.53 L505.81,482.34 L507.31,481.13 L508.81,479.88 L510.31,478.61 L511.81,477.31 L513.31,475.99 L514.82,474.64 L516.32,473.28 L517.82,471.89 L519.32,470.49 L520.82,469.08 L522.32,467.65 L523.82,466.21 L525.33,464.77 L526.83,463.32 L528.33,461.87 L529.83,460.41 L531.33,458.96 L532.83,457.51 L534.33,456.07 L535.84,454.64 L537.34,453.21 L538.84,451.80 L540.34,450.39 L541.84,448.99 L543.34,447.59 L544.84,446.21 L546.35,444.83 L547.85,443.45 L549.35,442.08 L550.85,440.71 L552.35,439.35 L553.85,437.99 L555.35,436.64 L556.86,435.28 L558.36,433.93 L559.86,432.58 L561.36,431.23 L562.86,429.89 L564.36,428.54 L565.86,427.19 L567.37,425.84 L568.87,424.49 L570.37,423.14 L571.87,421.79 L573.37,420.43 L574.87,419.07 L576.37,417.71 L577.87,416.34 L579.38,414.97 L580.88,413.59 L582.38,412.21 L583.88,410.82 L585.38,409.42 L586.88,408.02 L588.38,406.61 L589.89,405.19 L591.39,403.76 L592.89,402.32 L594.39,400.87 L595.89,399.42 L597.39,397.95 L598.89,396.47 L600.40,394.98 L601.90,393.48 L603.40,391.97 L604.90,390.44" fill="none" stroke="#fdc877" stroke-width="1.8" stroke-linecap="butt"/>
<path d="M390.20,507.83 L391.70,507.95 L393.20,508.05 L394.70,508.15 L396.21,508.23 L397.71,508.30 L399.21,508.37 L400.71,508.42 L402.21,508.46 L403.71,508.49 L405.21,508.51 L406.72,508.52 L408.22,508.52 L409.72,508.51 L411.22,508.49 L412.72,508.45 L414.22,508.41 L415.72,508.36 L417.23,508.29 L418.73,508.22 L420.23,508.14 L421.73,508.04 L423.23,507.94 L424.73,507.83 L426.23,507.70 L427.73,507.57 L429.24,507.43 L430.74,507.27 L432.24,507.11 L433.74,506.94 L435.24,506.76 L436.74,506.56 L438.24,506.36 L439.75,506.15 L441.25,505.93 L442.75,505.70 L444.25,505.46 L445.75,505.21 L447.25,504.95 L448.75,504.69 L450.26,504.41 L451.76,504.12 L453.26,503.83 L454.76,503.52 L456.26,503.21 L457.76,502.89 L459.26,502.56 L460.77,502.22 L462.27,501.88 L463.77,501.52 L465.27,501.16 L466.77,500.79 L468.27,500.42 L469.77,500.04 L471.28,499.65 L472.78,499.26 L474.28,498.86 L475.78,498.46 L477.28,498.05 L478.78,497.63 L480.28,497.21 L481.79,496.79 L483.29,496.36 L484.79,495.93 L486.29,495.49 L487.79,495.05 L489.29,494.61 L490.79,494.16 L492.30,493.71 L493.80,493.26 L495.30,492.81 L496.80,492.35 L498.30,491.89 L499.80,491.43 L501.30,490.97 L502.80,490.51 L504.31,490.04 L505.81,489.58 L507.31,489.11 L508.81,488.65 L510.31,488.19 L511.81,487.72 L513.31,487.26 L514.82,486.80 L516.32,486.34 L517.82,485.88 L519.32,485.43 L520.82,484.97 L522.32,484.52 L523.82,484.08 L525.33,483.63 L526.83,483.19 L528.33,482.76 L529.83,482.33 L531.33,481.90 L532.83,481.48 L534.33,481.06 L535.84,480.65 L537.34,480.24 L538.84,479.84 L540.34,479.45 L541.84,479.06 L543.34,478.68 L544.84,478.31 L546.35,477.94 L547.85,477.58 L549.35,477.23 L550.85,476.89 L552.35,476.55 L553.85,476.22 L555.35,475.90 L556.86,475.59 L558.36,475.29 L559.86,474.99 L561.36,474.71 L562.86,474.43 L564.36,474.16 L565.86,473.91 L567.37,473.66 L568.87,473.42 L570.37,473.19 L571.87,472.98 L573.37,472.77 L574.87,472.57 L576.37,472.39 L577.87,472.22 L579.38,472.05 L580.88,471.90 L582.38,471.76 L583.88,471.64 L585.38,471.52 L586.88,471.42 L588.38,471.33 L589.89,471.26 L591.39,471.19 L592.89,471.14 L594.39,471.11 L595.89,471.08 L597.39,471.07 L598.89,471.08 L600.40,471.10 L601.90,471.13 L603.40,471.18 L604.90,471.24" fill="none" stroke="#fba214" stroke-width="1.9" stroke-linecap="butt"/>
<path d="M390.20,523.52 L391.70,523.56 L393.20,523.54 L394.70,523.47 L396.21,523.36 L397.71,523.21 L399.21,523.01 L400.71,522.77 L402.21,522.50 L403.71,522.19 L405.21,521.85 L406.72,521.48 L408.22,521.08 L409.72,520.65 L411.22,520.20 L412.72,519.73 L414.22,519.24 L415.72,518.73 L417.23,518.20 L418.73,517.67 L420.23,517.12 L421.73,516.56 L423.23,515.99 L424.73,515.42 L426.23,514.85 L427.73,514.27 L429.24,513.70 L430.74,513.12 L432.24,512.55 L433.74,511.98 L435.24,511.42 L436.74,510.86 L438.24,510.31 L439.75,509.77 L441.25,509.24 L442.75,508.72 L444.25,508.21 L445.75,507.72 L447.25,507.24 L448.75,506.78 L450.26,506.33 L451.76,505.90 L453.26,505.48 L454.76,505.07 L456.26,504.67 L457.76,504.28 L459.26,503.89 L460.77,503.51 L462.27,503.14 L463.77,502.77 L465.27,502.40 L466.77,502.03 L468.27,501.66 L469.77,501.29 L471.28,500.92 L472.78,500.54 L474.28,500.16 L475.78,499.78 L477.28,499.38 L478.78,498.98 L480.28,498.56 L481.79,498.14 L483.29,497.70 L484.79,497.25 L486.29,496.78 L487.79,496.30 L489.29,495.80 L490.79,495.29 L492.30,494.76 L493.80,494.21 L495.30,493.65 L496.80,493.07 L498.30,492.47 L499.80,491.86 L501.30,491.23 L502.80,490.59 L504.31,489.93 L505.81,489.25 L507.31,488.55 L508.81,487.84 L510.31,487.12 L511.81,486.38 L513.31,485.62 L514.82,484.84 L516.32,484.05 L517.82,483.25 L519.32,482.42 L520.82,481.58 L522.32,480.73 L523.82,479.86 L525.33,478.97 L526.83,478.07 L528.33,477.15 L529.83,476.21 L531.33,475.26 L532.83,474.29 L534.33,473.31 L535.84,472.31 L537.34,471.29 L538.84,470.26 L540.34,469.21 L541.84,468.15 L543.34,467.07 L544.84,465.98 L546.35,464.86 L547.85,463.74 L549.35,462.59 L550.85,461.43 L552.35,460.26 L553.85,459.07 L555.35,457.86 L556.86,456.64 L558.36,455.40 L559.86,454.14 L561.36,452.87 L562.86,451.59 L564.36,450.29 L565.86,448.97 L567.37,447.63 L568.87,446.29 L570.37,444.92 L571.87,443.54 L573.37,442.14 L574.87,440.73 L576.37,439.30 L577.87,437.86 L579.38,436.40 L580.88,434.92 L582.38,433.43 L583.88,431.93 L585.38,430.40 L586.88,428.87 L588.38,427.31 L589.89,425.74 L591.39,424.16 L592.89,422.56 L594.39,420.94 L595.89,419.31 L597.39,417.66 L598.89,416.00 L600.40,414.32 L601.90,412.63 L603.40,410.92 L604.90,409.20" fill="none" stroke="#915f1c" stroke-width="1.5" stroke-linecap="butt"/>
<line x1="389.4" y1="352.5" x2="389.4" y2="562.7" stroke="#555555" stroke-width="1.1"/>
<line x1="389.4" y1="562.1" x2="612.7" y2="562.1" stroke="#555555" stroke-width="1.1"/>
<line x1="387.4" y1="362.70" x2="389.4" y2="362.70" stroke="#555555" stroke-width="1"/>
<text x="386.59999999999997" y="364.80" text-anchor="end" font-size="11.1" fill="#262626">0.5</text>
<line x1="387.4" y1="394.38" x2="389.4" y2="394.38" stroke="#555555" stroke-width="1"/>
<text x="386.59999999999997" y="396.48" text-anchor="end" font-size="11.1" fill="#262626">0.4</text>
<line x1="387.4" y1="426.06" x2="389.4" y2="426.06" stroke="#555555" stroke-width="1"/>
<text x="386.59999999999997" y="428.16" text-anchor="end" font-size="11.1" fill="#262626">0.3</text>
<line x1="387.4" y1="457.74" x2="389.4" y2="457.74" stroke="#555555" stroke-width="1"/>
<text x="386.59999999999997" y="459.84" text-anchor="end" font-size="11.1" fill="#262626">0.2</text>
<line x1="387.4" y1="489.42" x2="389.4" y2="489.42" stroke="#555555" stroke-width="1"/>
<text x="386.59999999999997" y="491.52" text-anchor="end" font-size="11.1" fill="#262626">0.1</text>
<line x1="387.4" y1="521.10" x2="389.4" y2="521.10" stroke="#555555" stroke-width="1"/>
<text x="386.59999999999997" y="523.20" text-anchor="end" font-size="11.1" fill="#262626">0.0</text>
<line x1="387.4" y1="552.78" x2="389.4" y2="552.78" stroke="#555555" stroke-width="1"/>
<text x="386.59999999999997" y="554.88" text-anchor="end" font-size="11.1" fill="#262626">−0.1</text>
<line x1="433.50" y1="562.1" x2="433.50" y2="564.1" stroke="#555555" stroke-width="1"/>
<text x="433.50" y="574.70" text-anchor="middle" font-size="11.4" fill="#262626">−10</text>
<line x1="501.40" y1="562.1" x2="501.40" y2="564.1" stroke="#555555" stroke-width="1"/>
<text x="501.40" y="574.70" text-anchor="middle" font-size="11.4" fill="#262626">0</text>
<line x1="569.30" y1="562.1" x2="569.30" y2="564.1" stroke="#555555" stroke-width="1"/>
<text x="569.30" y="574.70" text-anchor="middle" font-size="11.4" fill="#262626">10</text>
<text x="494.7" y="596" text-anchor="middle" font-size="13.45" font-weight="bold" fill="#000">Estimated Tau-PET+ years</text>
<text transform="translate(361,457.3) rotate(-90)" x="0" y="0" text-anchor="middle" font-size="11.3" font-weight="bold" fill="#000">Biomarker Slope (z-score)</text>
<line x1="617.5" y1="391.4" x2="624.0" y2="391.4" stroke="#fdc877" stroke-width="1.9"/>
<text x="628.0" y="393.4" font-size="11.5" fill="#262626">p-<tspan dx="-1.6">tau217</tspan></text>
<line x1="617.5" y1="403.7" x2="624.0" y2="403.7" stroke="#915f1c" stroke-width="1.9"/>
<text x="628.0" y="406.9" font-size="11.5" fill="#262626">np-<tspan dx="-1.6">tau</tspan></text>
<text x="628.0" y="420.9" font-size="11.5" fill="#262626">mid-region</text>
<line x1="617.5" y1="469.3" x2="624.0" y2="469.3" stroke="#fba214" stroke-width="1.9"/>
<text x="628.0" y="472.8" font-size="11.5" fill="#262626">%p-<tspan dx="-1.6">tau217</tspan></text>
</svg>
</body></html>
